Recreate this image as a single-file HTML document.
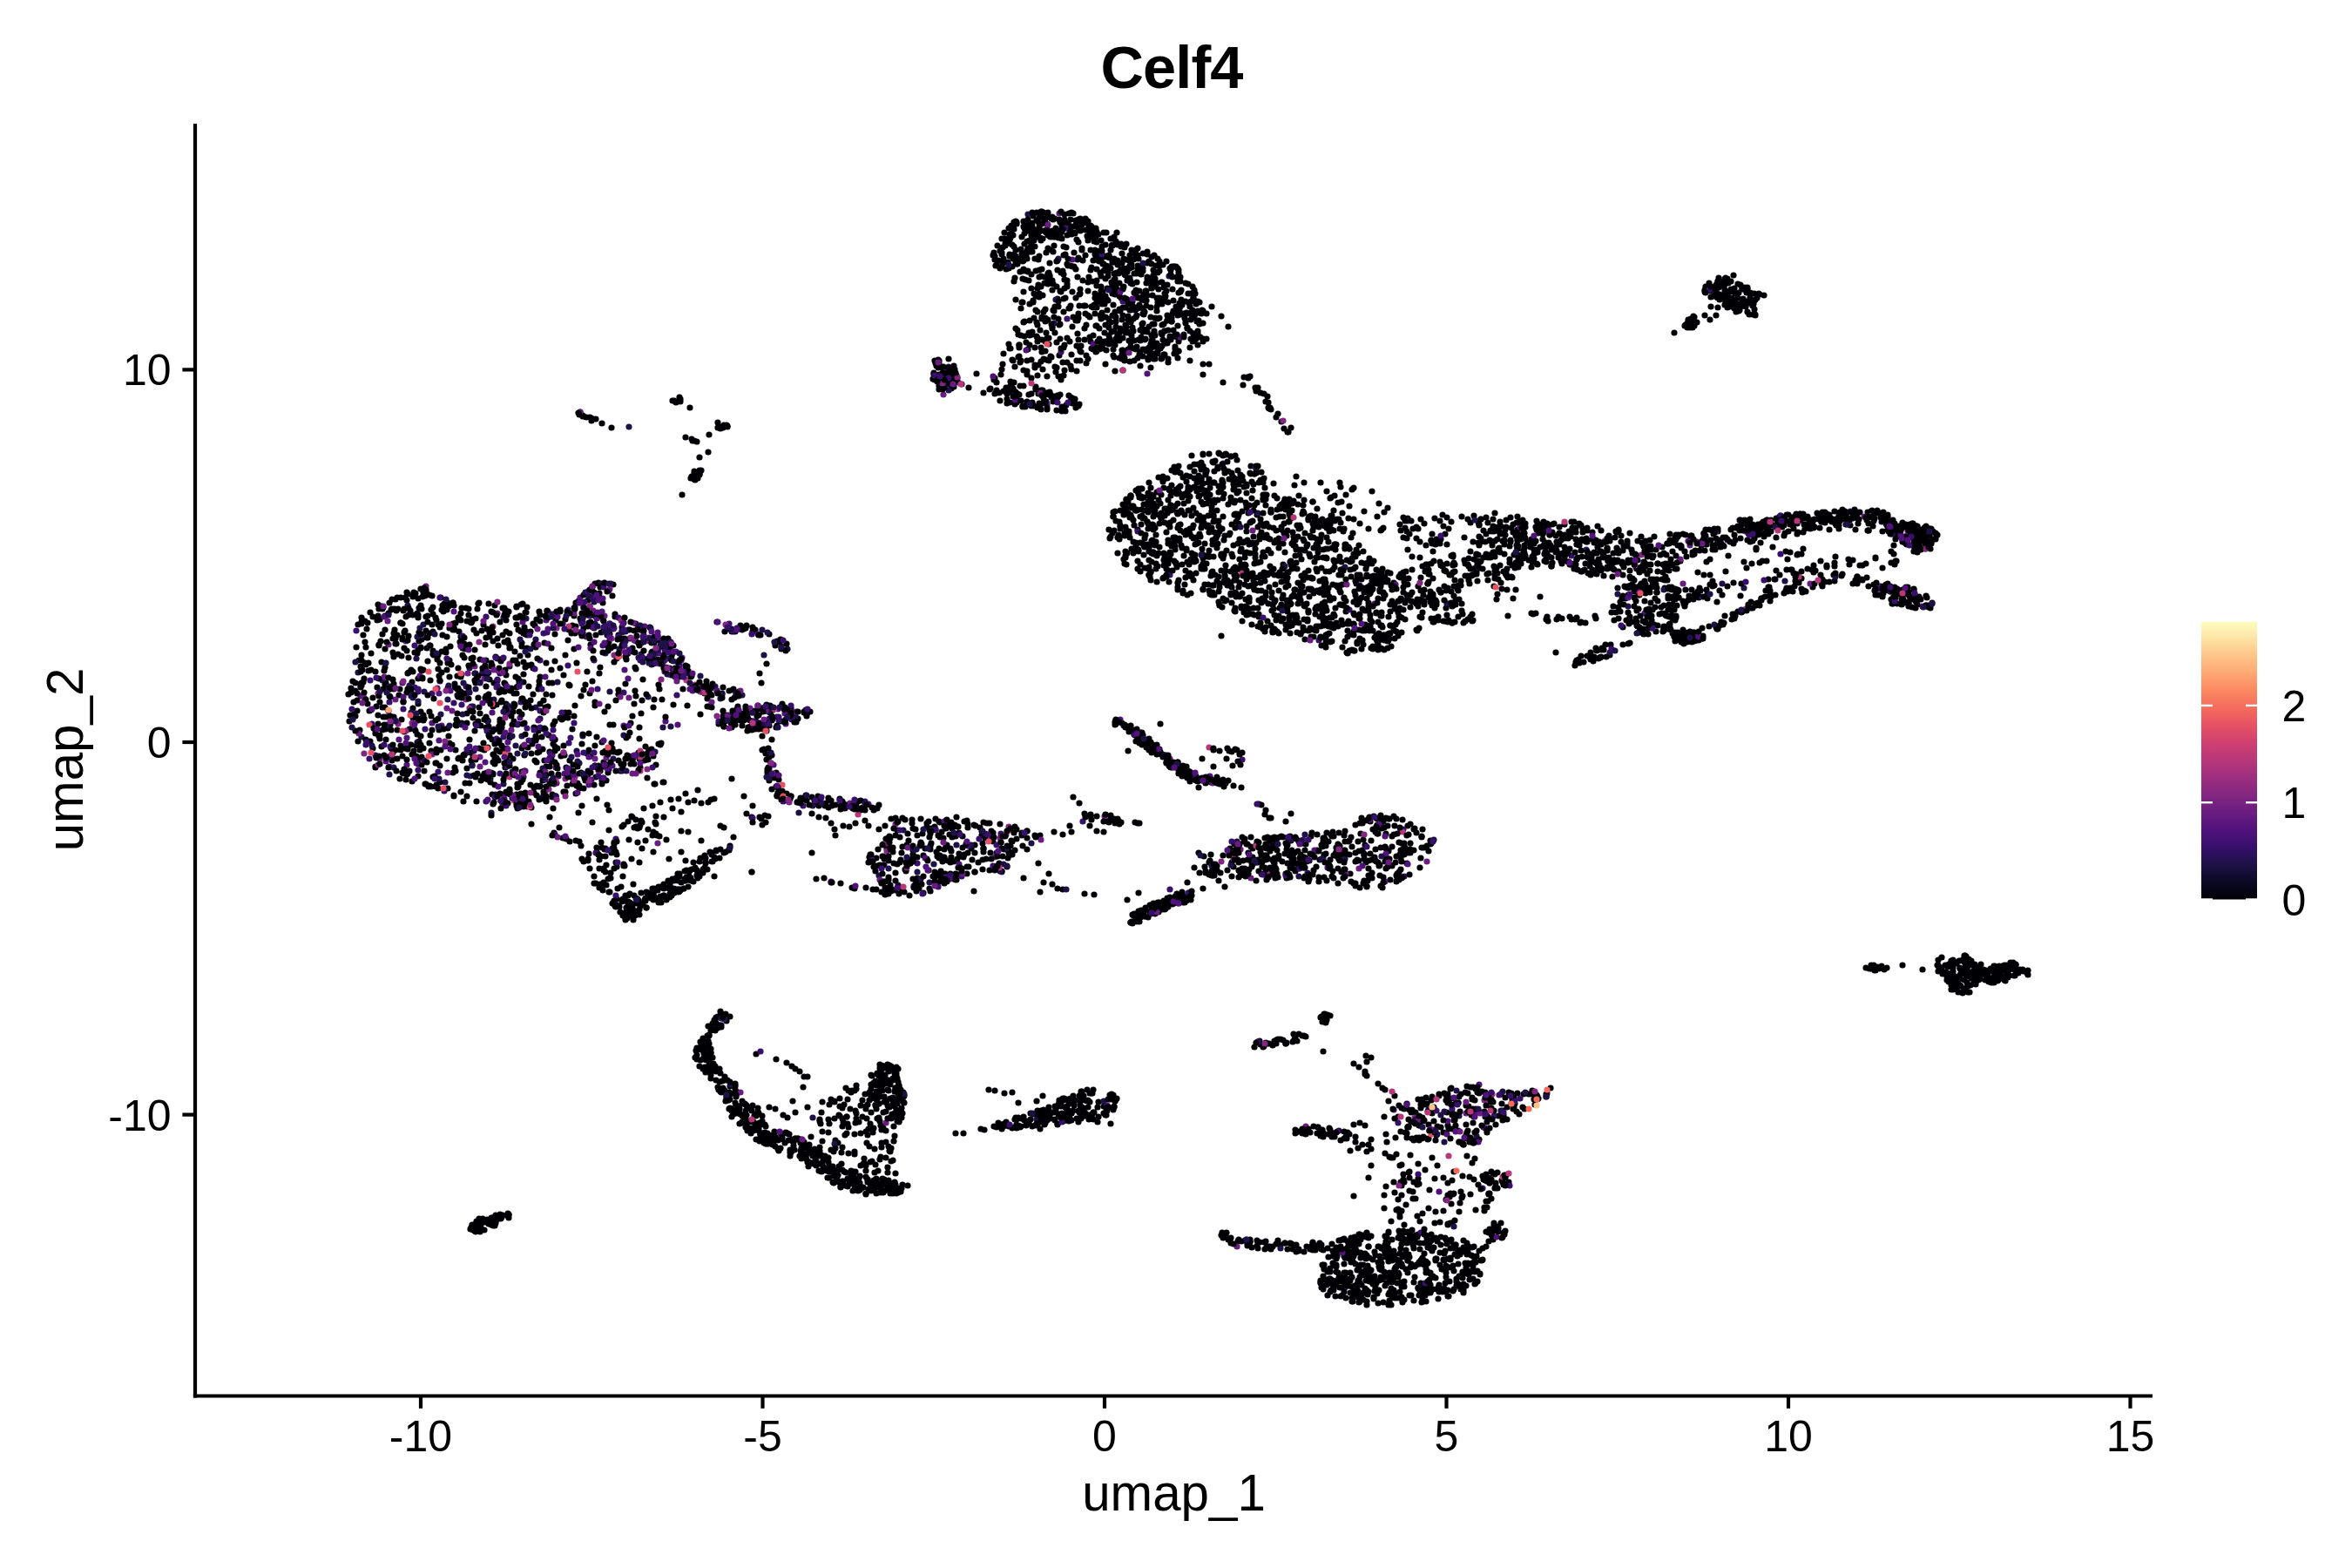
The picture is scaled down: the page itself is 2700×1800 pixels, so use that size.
<!DOCTYPE html>
<html><head><meta charset="utf-8"><style>
html,body{margin:0;padding:0;background:#fff;width:2700px;height:1800px;overflow:hidden}
svg{display:block}
.tk{font-family:"Liberation Sans",sans-serif;font-size:50px;fill:#000}
.lab{font-family:"Liberation Sans",sans-serif;font-size:58.3px;fill:#000}
.title{font-family:"Liberation Sans",sans-serif;font-size:68.5px;font-weight:bold;letter-spacing:-0.9px;fill:#000}
</style></head><body>
<svg width="2700" height="1800" viewBox="0 0 2700 1800">
<rect width="2700" height="1800" fill="#fff"/>
<line x1="224" y1="142" x2="224" y2="1604.6" stroke="#000" stroke-width="4.2" stroke-linecap="butt"/>
<line x1="221.9" y1="1602.5" x2="2471" y2="1602.5" stroke="#000" stroke-width="4.2"/>
<line x1="483.0" y1="1602.5" x2="483.0" y2="1616.8" stroke="#000" stroke-width="4.2"/>
<text x="483.0" y="1666" text-anchor="middle" class="tk">-10</text>
<line x1="875.5" y1="1602.5" x2="875.5" y2="1616.8" stroke="#000" stroke-width="4.2"/>
<text x="875.5" y="1666" text-anchor="middle" class="tk">-5</text>
<line x1="1268.0" y1="1602.5" x2="1268.0" y2="1616.8" stroke="#000" stroke-width="4.2"/>
<text x="1268.0" y="1666" text-anchor="middle" class="tk">0</text>
<line x1="1660.5" y1="1602.5" x2="1660.5" y2="1616.8" stroke="#000" stroke-width="4.2"/>
<text x="1660.5" y="1666" text-anchor="middle" class="tk">5</text>
<line x1="2053.0" y1="1602.5" x2="2053.0" y2="1616.8" stroke="#000" stroke-width="4.2"/>
<text x="2053.0" y="1666" text-anchor="middle" class="tk">10</text>
<line x1="2445.5" y1="1602.5" x2="2445.5" y2="1616.8" stroke="#000" stroke-width="4.2"/>
<text x="2445.5" y="1666" text-anchor="middle" class="tk">15</text>
<line x1="209.4" y1="424.4" x2="224" y2="424.4" stroke="#000" stroke-width="4.2"/>
<text x="196.5" y="442.4" text-anchor="end" class="tk">10</text>
<line x1="209.4" y1="852.0" x2="224" y2="852.0" stroke="#000" stroke-width="4.2"/>
<text x="196.5" y="870.0" text-anchor="end" class="tk">0</text>
<line x1="209.4" y1="1279.6" x2="224" y2="1279.6" stroke="#000" stroke-width="4.2"/>
<text x="196.5" y="1297.6" text-anchor="end" class="tk">-10</text>
<text x="1345" y="100.7" text-anchor="middle" class="title">Celf4</text>
<text x="1347.5" y="1733.9" text-anchor="middle" class="lab">umap_1</text>
<text transform="translate(95,872) rotate(-90)" x="0" y="0" text-anchor="middle" class="lab">umap_2</text>
<g stroke-width="7.2" stroke-linecap="round" fill="none"><path d="M1235 253h0M1194 273h0M1154 282h0M1219 259h0M1185 245h0M1217 255h0M1167 257h0M1228 266h0M1144 304h0M1193 266h0M1195 276h0M1225 270h0M1218 264h0M1215 271h0M1209 252h0M1236 275h0M1264 276h0M1155 278h0M1279 272h0M1158 306h0M1249 276h0M1179 257h0M1251 261h0M1150 274h0M1196 243h0M1168 303h0M1248 256h0M1164 263h0M1246 251h0M1173 290h0M1213 268h0M1197 274h0M1203 266h0M1230 269h0M1182 256h0M1229 252h0M1187 276h0M1159 279h0M1186 248h0M1183 284h0M1159 269h0M1238 262h0M1211 251h0M1242 258h0M1244 255h0M1283 281h0M1161 268h0M1228 265h0M1203 244h0M1181 258h0M1169 298h0M1154 280h0M1176 280h0M1345 369h0M1336 330h0M1322 295h0M1309 404h0M1311 377h0M1326 320h0M1313 338h0M1285 312h0M1295 349h0M1273 293h0M1285 382h0M1288 367h0M1277 337h0M1306 342h0M1272 317h0M1334 397h0M1298 346h0M1281 389h0M1289 332h0M1273 395h0M1336 407h0M1273 306h0M1307 390h0M1375 380h0M1353 336h0M1381 357h0M1301 352h0M1319 300h0M1311 341h0M1367 346h0M1366 360h0M1283 299h0M1349 398h0M1265 283h0M1301 380h0M1301 366h0M1268 349h0M1359 384h0M1335 304h0M1326 328h0M1297 305h0M1333 324h0M1276 381h0M1260 346h0M1288 302h0M1324 310h0M1266 295h0M1322 385h0M1285 391h0M1369 365h0M1307 297h0M1263 339h0M1291 414h0M1275 332h0M1312 371h0M1317 289h0M1284 314h0M1316 351h0M1303 356h0M1317 381h0M1298 370h0M1340 368h0M1266 338h0M1372 360h0M1354 348h0M1333 412h0M1291 284h0M1328 394h0M1292 344h0M1259 322h0M1277 393h0M1353 319h0M1273 385h0M1291 315h0M1377 358h0M1307 342h0M1281 331h0M1331 305h0M1331 311h0M1287 342h0M1352 308h0M1381 389h0M1298 323h0M1352 374h0M1371 391h0M1352 362h0M1295 367h0M1367 367h0M1354 388h0M1347 345h0M1288 291h0M1269 294h0M1263 293h0M1305 293h0M1358 361h0M1295 401h0M1262 288h0M1336 372h0M1302 391h0M1281 375h0M1379 360h0M1311 372h0M1296 367h0M1266 335h0M1259 293h0M1290 329h0M1299 346h0M1344 310h0M1277 327h0M1298 325h0M1369 329h0M1373 349h0M1208 322h0M1170 396h0M1204 313h0M1240 414h0M1256 350h0M1214 310h0M1165 421h0M1197 339h0M1191 392h0M1242 285h0M1257 342h0M1222 425h0M1208 375h0M1225 329h0M1215 352h0M1250 318h0M1252 392h0M1171 416h0M1245 390h0M1165 319h0M1259 353h0M1243 322h0M1193 318h0M1268 382h0M1237 383h0M1182 349h0M1198 358h0M1255 353h0M1209 289h0M1162 413h0M1239 338h0M1181 382h0M1176 386h0M1200 365h0M1188 297h0M1217 389h0M1221 315h0M1193 310h0M1186 345h0M1218 335h0M1201 366h0M1209 326h0M1221 283h0M1242 287h0M1182 368h0M1223 342h0M1205 316h0M1178 393h0M1176 369h0M1224 284h0M1240 332h0M1192 327h0M1195 317h0M1231 375h0M1197 424h0M1195 415h0M1204 395h0M1266 400h0M1249 362h0M1188 399h0M1229 305h0M1221 343h0M1263 362h0M1199 325h0M1232 364h0M1174 320h0M1238 360h0M1236 414h0M1185 289h0M1249 334h0M1253 400h0M1203 367h0M1215 455h0M1195 448h0M1197 463h0M1171 443h0M1167 462h0M1163 447h0M1172 460h0M1234 463h0M1174 467h0M1209 461h0M1231 463h0M1227 454h0M1220 468h0M1194 465h0M1229 456h0M1217 453h0M1201 461h0M1222 470h0M1187 466h0M1199 453h0M1179 461h0M1072 428h0M1096 434h0M1094 423h0M1090 438h0M1098 435h0M1073 436h0M1083 431h0M1078 430h0M1075 420h0M1086 427h0M1092 446h0M1083 429h0M1164 439h0M1151 418h0M1112 445h0M1121 429h0M1404 439h0M1280 426h0M1289 425h0M1309 420h0M1321 422h0M1366 414h0M1433 434h0M1451 452h0M1458 468h0M1471 484h0M1478 496h0M2000 331h0M1986 335h0M2012 351h0M1980 323h0M1984 347h0M1957 333h0M1979 341h0M1997 356h0M2015 344h0M1979 329h0M1983 320h0M1984 335h0M2001 343h0M1981 319h0M1980 344h0M1981 348h0M1972 323h0M1987 332h0M1970 332h0M2014 355h0M1980 320h0M2006 346h0M2025 339h0M1991 331h0M1993 358h0M1980 336h0M1986 345h0M2009 336h0M1979 326h0M1997 349h0M1994 355h0M2008 348h0M1965 332h0M1990 316h0M1957 362h0M1922 382h0M1938 373h0M1938 370h0M1937 371h0M1940 376h0M1945 371h0M1945 374h0M670 478h0M669 477h0M669 478h0M684 481h0M691 486h0M803 525h0M774 460h0M795 506h0M800 507h0M797 506h0M794 504h0M793 549h0M805 540h0M797 549h0M803 542h0M797 550h0M594 921h0M590 811h0M442 723h0M452 823h0M442 707h0M520 887h0M526 790h0M559 722h0M509 702h0M431 880h0M506 861h0M580 881h0M536 819h0M484 734h0M439 812h0M631 863h0M636 898h0M574 826h0M587 822h0M618 839h0M627 880h0M582 706h0M568 877h0M567 866h0M525 776h0M689 885h0M480 792h0M585 812h0M555 894h0M536 830h0M599 886h0M623 896h0M633 896h0M496 838h0M675 889h0M525 791h0M459 894h0M475 862h0M450 873h0M561 834h0M613 740h0M593 912h0M564 702h0M670 890h0M504 776h0M633 888h0M570 809h0M587 790h0M507 716h0M571 781h0M592 777h0M414 765h0M544 723h0M438 857h0M479 750h0M590 828h0M635 832h0M557 764h0M497 725h0M743 865h0M531 873h0M514 761h0M420 743h0M545 773h0M467 795h0M536 713h0M513 769h0M490 732h0M568 901h0M439 838h0M454 733h0M524 826h0M426 750h0M573 834h0M579 784h0M615 836h0M414 785h0M542 711h0M648 867h0M593 796h0M402 821h0M593 925h0M489 679h0M600 802h0M484 770h0M558 802h0M496 717h0M581 808h0M465 886h0M414 787h0M484 878h0M498 752h0M541 715h0M531 738h0M555 853h0M449 859h0M605 744h0M598 898h0M461 826h0M450 866h0M469 730h0M554 773h0M559 827h0M514 836h0M665 905h0M456 838h0M467 680h0M567 784h0M406 806h0M431 881h0M579 794h0M562 846h0M585 817h0M481 726h0M443 784h0M551 757h0M494 844h0M448 832h0M575 759h0M533 755h0M561 693h0M527 725h0M463 805h0M616 913h0M573 837h0M419 761h0M559 887h0M584 739h0M439 699h0M523 832h0M534 745h0M473 783h0M440 791h0M541 873h0M465 686h0M518 763h0M483 744h0M423 761h0M410 816h0M493 683h0M501 860h0M458 798h0M600 857h0M609 804h0M433 712h0M552 896h0M657 887h0M428 801h0M532 798h0M451 780h0M601 760h0M612 797h0M594 900h0M598 725h0M606 752h0M451 749h0M601 727h0M549 693h0M581 820h0M514 790h0M533 739h0M540 864h0M497 747h0M480 709h0M497 751h0M582 873h0M494 781h0M580 785h0M568 854h0M526 709h0M750 868h0M474 824h0M618 791h0M472 769h0M520 692h0M484 699h0M602 720h0M460 856h0M412 839h0M560 827h0M579 891h0M480 687h0M512 745h0M483 817h0M620 706h0M452 871h0M609 725h0M615 743h0M615 845h0M601 783h0M467 689h0M504 838h0M474 813h0M599 742h0M586 912h0M603 812h0M443 837h0M577 729h0M480 746h0M563 898h0M405 782h0M526 767h0M581 911h0M583 922h0M607 920h0M610 927h0M636 900h0M627 917h0M613 910h0M698 882h0M684 892h0M682 901h0M691 900h0M693 880h0M675 896h0M735 881h0M728 877h0M734 871h0M719 871h0M750 864h0M743 871h0M745 862h0M718 871h0M748 860h0M723 733h0M829 796h0M657 718h0M780 777h0M692 692h0M695 719h0M682 680h0M670 721h0M673 706h0M807 791h0M732 722h0M698 742h0M751 738h0M704 671h0M726 748h0M811 782h0M643 700h0M638 712h0M747 759h0M669 726h0M823 793h0M700 716h0M771 753h0M749 748h0M784 773h0M629 702h0M845 798h0M677 696h0M807 791h0M700 728h0M706 705h0M848 794h0M767 733h0M717 733h0M706 708h0M693 721h0M757 735h0M787 768h0M659 707h0M777 774h0M778 775h0M697 739h0M653 723h0M728 724h0M699 737h0M726 744h0M759 739h0M687 669h0M714 745h0M772 750h0M746 720h0M691 852h0M688 773h0M670 792h0M710 792h0M719 847h0M625 738h0M718 785h0M649 818h0M759 853h0M812 802h0M647 775h0M719 757h0M814 811h0M734 848h0M678 740h0M741 857h0M653 818h0M662 761h0M728 808h0M634 798h0M751 803h0M645 826h0M700 832h0M683 810h0M634 784h0M912 822h0M863 818h0M882 828h0M831 834h0M884 818h0M916 825h0M902 818h0M871 837h0M887 815h0M861 827h0M858 824h0M855 819h0M878 815h0M825 831h0M886 827h0M908 813h0M850 827h0M865 828h0M842 826h0M864 833h0M852 833h0M859 838h0M866 817h0M865 817h0M842 818h0M878 812h0M832 725h0M864 725h0M873 729h0M867 723h0M856 721h0M895 737h0M872 773h0M879 865h0M883 882h0M1503 593h0M1436 535h0M1387 554h0M1518 677h0M1385 578h0M1426 681h0M1348 619h0M1306 653h0M1307 631h0M1481 586h0M1371 541h0M1468 629h0M1417 577h0M1452 667h0M1391 582h0M1538 607h0M1341 655h0M1423 619h0M1426 547h0M1313 571h0M1377 592h0M1485 621h0M1504 593h0M1294 635h0M1356 626h0M1423 685h0M1418 575h0M1283 617h0M1483 624h0M1546 643h0M1410 579h0M1347 617h0M1343 563h0M1416 562h0M1472 661h0M1398 536h0M1522 656h0M1508 605h0M1431 583h0M1346 585h0M1559 664h0M1487 617h0M1478 609h0M1311 592h0M1559 635h0M1434 686h0M1410 668h0M1311 561h0M1304 563h0M1446 615h0M1501 625h0M1485 616h0M1388 639h0M1512 656h0M1476 667h0M1423 653h0M1447 596h0M1376 623h0M1300 581h0M1524 605h0M1551 617h0M1440 635h0M1387 671h0M1498 612h0M1351 567h0M1362 553h0M1330 591h0M1378 616h0M1420 528h0M1558 660h0M1497 662h0M1423 684h0M1274 618h0M1322 635h0M1527 602h0M1483 586h0M1325 589h0M1496 587h0M1530 654h0M1441 636h0M1359 611h0M1341 574h0M1360 567h0M1379 650h0M1366 562h0M1430 688h0M1452 617h0M1388 550h0M1352 590h0M1513 628h0M1295 574h0M1537 596h0M1518 596h0M1524 630h0M1431 634h0M1340 637h0M1304 586h0M1362 632h0M1428 559h0M1392 656h0M1443 591h0M1286 603h0M1356 586h0M1310 570h0M1440 663h0M1439 556h0M1377 613h0M1305 586h0M1537 660h0M1522 630h0M1530 671h0M1290 642h0M1400 670h0M1445 663h0M1402 655h0M1495 673h0M1456 618h0M1519 631h0M1380 630h0M1364 586h0M1448 678h0M1468 659h0M1424 684h0M1443 577h0M1515 680h0M1285 619h0M1524 598h0M1417 660h0M1422 601h0M1475 579h0M1370 583h0M1306 608h0M1425 654h0M1328 565h0M1519 665h0M1386 605h0M1529 592h0M1517 614h0M1474 601h0M1381 677h0M1525 675h0M1483 653h0M1383 539h0M1394 597h0M1416 556h0M1431 556h0M1424 574h0M1430 577h0M1447 551h0M1375 533h0M1500 627h0M1381 653h0M1385 540h0M1381 555h0M1471 581h0M1465 594h0M1552 641h0M1405 620h0M1471 668h0M1504 615h0M1321 657h0M1448 542h0M1323 580h0M1575 647h0M1428 659h0M1309 593h0M1362 609h0M1549 630h0M1404 554h0M1425 648h0M1297 594h0M1463 569h0M1482 593h0M1294 590h0M1473 683h0M1394 577h0M1463 623h0M1433 662h0M1480 573h0M1435 600h0M1459 588h0M1363 565h0M1337 584h0M1407 521h0M1337 584h0M1413 683h0M1304 627h0M1492 682h0M1493 678h0M1388 521h0M1352 578h0M1429 640h0M1379 539h0M1449 602h0M1370 618h0M1381 535h0M1479 657h0M1432 661h0M1349 631h0M1290 585h0M1535 644h0M1447 602h0M1293 583h0M1570 646h0M1322 621h0M1501 663h0M1327 622h0M1311 572h0M1476 674h0M1565 633h0M1373 617h0M1439 666h0M1440 647h0M1293 574h0M1391 683h0M1336 560h0M1393 531h0M1350 562h0M1336 643h0M1381 641h0M1299 630h0M1507 664h0M1436 544h0M1352 606h0M1328 668h0M1468 661h0M1532 598h0M1366 607h0M1372 625h0M1392 530h0M1386 564h0M1393 639h0M1437 572h0M1394 683h0M1435 543h0M1438 563h0M1368 616h0M1358 548h0M1373 589h0M1534 625h0M1321 585h0M1336 550h0M1542 610h0M1456 631h0M1380 636h0M1361 614h0M1441 646h0M1405 667h0M1395 660h0M1502 676h0M1403 551h0M1292 640h0M1345 565h0M1355 602h0M1471 579h0M1309 623h0M1528 597h0M1577 644h0M1482 595h0M1422 556h0M1340 589h0M1451 663h0M1399 604h0M1470 584h0M1378 535h0M1324 634h0M1402 561h0M1535 596h0M1441 663h0M1318 601h0M1293 609h0M1337 600h0M1417 549h0M1344 580h0M1298 569h0M1480 590h0M1422 550h0M1349 542h0M1508 629h0M1364 565h0M1413 524h0M1346 585h0M1463 691h0M1445 708h0M1403 697h0M1519 717h0M1554 691h0M1588 729h0M1434 691h0M1519 712h0M1577 661h0M1536 719h0M1555 679h0M1526 727h0M1548 713h0M1587 720h0M1503 685h0M1571 701h0M1400 694h0M1529 720h0M1554 747h0M1431 699h0M1522 738h0M1561 733h0M1547 731h0M1593 728h0M1581 742h0M1601 699h0M1606 708h0M1605 690h0M1558 693h0M1583 735h0M1480 719h0M1584 679h0M1579 732h0M1538 678h0M1596 658h0M1425 696h0M1498 696h0M1461 726h0M1531 721h0M1478 697h0M1569 687h0M1522 713h0M1447 715h0M1439 698h0M1583 727h0M1558 739h0M1517 698h0M1585 718h0M1554 716h0M1575 677h0M1485 715h0M1558 694h0M1489 726h0M1497 694h0M1505 731h0M1488 706h0M1476 717h0M1521 691h0M1432 698h0M1433 690h0M1484 706h0M1565 675h0M1585 707h0M1471 694h0M1531 717h0M1461 694h0M1526 685h0M1522 729h0M1554 725h0M1493 727h0M1573 719h0M1554 729h0M1589 735h0M1582 660h0M1508 723h0M1590 683h0M1480 710h0M1540 712h0M1601 694h0M1557 670h0M1498 734h0M1573 706h0M1478 702h0M1582 687h0M1561 688h0M1582 714h0M1564 735h0M1586 661h0M1510 705h0M1600 669h0M1539 680h0M1598 673h0M1649 694h0M1666 679h0M1688 708h0M1639 670h0M1695 637h0M1667 696h0M1658 655h0M1700 644h0M1635 694h0M1688 633h0M1691 712h0M1613 711h0M1615 683h0M1608 663h0M1685 661h0M1640 668h0M1621 680h0M1655 648h0M1653 645h0M1611 662h0M1670 656h0M1626 693h0M1616 687h0M1643 647h0M1687 670h0M1677 667h0M1635 690h0M1667 715h0M1686 650h0M1680 715h0M1660 678h0M1677 672h0M1609 688h0M1661 647h0M1660 656h0M1611 680h0M1664 660h0M1536 577h0M1539 559h0M1581 593h0M1451 549h0M1583 578h0M1523 564h0M1549 581h0M1548 595h0M1571 607h0M1541 589h0M1552 562h0M1626 605h0M1491 569h0M1735 662h0M1719 682h0M2002 601h0M1999 608h0M2001 609h0M2017 604h0M2044 592h0M2048 599h0M2039 595h0M2035 603h0M2030 604h0M2048 594h0M2051 591h0M2059 597h0M2061 592h0M2065 595h0M2057 594h0M2055 598h0M2092 596h0M2097 590h0M2111 592h0M2100 597h0M2122 598h0M2144 588h0M2133 596h0M2148 590h0M2128 590h0M2170 604h0M2193 604h0M2213 621h0M2171 604h0M2178 614h0M2205 631h0M2210 630h0M2184 604h0M2172 605h0M2189 615h0M2212 624h0M2217 622h0M2181 612h0M2208 608h0M2205 631h0M2178 607h0M2171 611h0M2184 622h0M2215 612h0M2173 613h0M1940 725h0M1935 726h0M1934 733h0M1923 726h0M1942 737h0M1932 723h0M1930 737h0M1922 730h0M1943 727h0M1935 733h0M1920 727h0M2216 622h0M2146 593h0M1776 635h0M1874 664h0M1862 647h0M1845 651h0M1870 644h0M1792 644h0M1896 638h0M1981 617h0M1922 623h0M1885 623h0M1774 623h0M1841 661h0M1906 637h0M1878 651h0M1778 626h0M2088 596h0M1849 648h0M1847 617h0M1874 635h0M1791 613h0M1822 609h0M1967 608h0M1920 648h0M1809 611h0M2145 609h0M2124 603h0M2048 615h0M2107 601h0M2030 604h0M1951 632h0M1744 614h0M2043 593h0M2076 602h0M1828 654h0M1959 625h0M1873 643h0M1751 638h0M1764 647h0M1960 621h0M1879 653h0M1777 627h0M2029 597h0M1792 620h0M1833 659h0M2189 625h0M1807 647h0M2062 590h0M2161 610h0M1848 621h0M1869 646h0M1835 642h0M1750 612h0M2025 613h0M1929 644h0M1834 648h0M1943 637h0M1761 624h0M1780 626h0M1774 633h0M1891 659h0M2222 612h0M2199 604h0M1826 644h0M1871 662h0M2039 605h0M1744 646h0M2111 603h0M1811 654h0M1894 655h0M2041 595h0M2049 612h0M1912 662h0M1802 630h0M1966 631h0M1975 628h0M2107 596h0M2183 616h0M2037 603h0M2033 610h0M2048 603h0M1876 666h0M2193 607h0M2058 603h0M1882 657h0M1880 621h0M2167 608h0M1918 648h0M1908 628h0M1926 616h0M1764 634h0M1782 611h0M1970 618h0M2018 614h0M1815 603h0M1764 608h0M1805 611h0M2151 598h0M1887 627h0M1745 602h0M2062 594h0M1743 643h0M1747 600h0M1854 617h0M1918 642h0M1794 644h0M2199 630h0M1901 631h0M1957 632h0M1846 644h0M1821 618h0M2129 585h0M1923 617h0M1856 611h0M1868 621h0M1857 643h0M1784 601h0M1800 632h0M1799 615h0M1810 642h0M1828 619h0M2009 614h0M2039 617h0M1750 626h0M2044 597h0M1899 616h0M1796 640h0M1803 616h0M2194 603h0M2025 604h0M1816 656h0M2027 598h0M1822 606h0M1917 620h0M1809 619h0M1837 633h0M1850 649h0M2010 602h0M1746 647h0M2046 605h0M1968 607h0M2209 610h0M1833 747h0M1809 760h0M1843 740h0M1841 746h0M1826 749h0M1863 740h0M1911 675h0M1948 681h0M1927 686h0M1870 716h0M1923 676h0M1918 723h0M1894 680h0M1853 712h0M1863 684h0M1943 686h0M1952 678h0M1895 692h0M1897 672h0M1879 701h0M1908 665h0M1934 696h0M1960 682h0M1884 726h0M1878 710h0M1885 674h0M1959 677h0M1910 721h0M1927 678h0M1950 686h0M1892 678h0M1888 677h0M1896 707h0M1873 714h0M1881 726h0M1939 684h0M1902 680h0M1869 703h0M1879 718h0M1897 668h0M1895 708h0M1902 675h0M1881 699h0M1874 671h0M1924 709h0M1920 685h0M1916 717h0M1891 722h0M1889 671h0M1942 677h0M1911 666h0M1888 680h0M1877 676h0M2022 689h0M1936 729h0M1934 733h0M1942 732h0M2033 685h0M1934 728h0M1991 705h0M1972 722h0M1948 735h0M2016 695h0M1950 735h0M1953 733h0M1922 729h0M2015 693h0M1947 684h0M2130 666h0M2097 651h0M2090 644h0M2075 653h0M2026 685h0M2138 649h0M1963 671h0M2030 665h0M1977 683h0M2081 674h0M2091 670h0M2132 662h0M2137 665h0M2145 673h0M2132 668h0M2143 663h0M2138 666h0M2145 673h0M2176 686h0M2152 678h0M2197 685h0M2164 677h0M2184 681h0M2157 676h0M2198 683h0M2191 692h0M1760 705h0M1776 708h0M1787 711h0M1789 708h0M1808 711h0M1814 715h0M1815 714h0M1786 749h0M1281 830h0M1280 829h0M1292 835h0M1297 838h0M1288 830h0M1303 844h0M1314 854h0M1325 860h0M1322 864h0M1324 856h0M1316 853h0M1337 867h0M1335 868h0M1363 891h0M1353 882h0M1374 896h0M1390 898h0M1397 892h0M1400 900h0M1393 880h0M1416 902h0M1414 863h0M1418 860h0M1411 862h0M1408 871h0M1416 995h0M1492 991h0M1558 987h0M1420 968h0M1598 972h0M1603 1005h0M1579 988h0M1537 986h0M1433 979h0M1632 973h0M1581 947h0M1421 970h0M1432 969h0M1436 972h0M1488 963h0M1585 1017h0M1523 1011h0M1529 1006h0M1619 979h0M1550 1003h0M1616 948h0M1551 961h0M1543 959h0M1420 969h0M1619 946h0M1586 951h0M1491 965h0M1394 998h0M1412 974h0M1475 980h0M1560 977h0M1579 975h0M1493 981h0M1551 1012h0M1584 1005h0M1466 962h0M1552 972h0M1514 1007h0M1537 983h0M1591 997h0M1463 991h0M1483 982h0M1490 977h0M1418 982h0M1589 940h0M1512 976h0M1575 1002h0M1558 988h0M1496 996h0M1564 945h0M1420 971h0M1617 976h0M1568 990h0M1438 992h0M1630 996h0M1573 943h0M1521 963h0M1567 970h0M1596 993h0M1570 1011h0M1635 973h0M1461 987h0M1479 961h0M1582 957h0M1556 1014h0M1583 994h0M1594 977h0M1603 940h0M1602 990h0M1429 1001h0M1569 1017h0M1595 986h0M1460 962h0M1642 965h0M1593 948h0M1417 985h0M1571 997h0M1575 987h0M1458 996h0M1302 1049h0M1307 1046h0M1309 1049h0M1309 1053h0M1328 1039h0M1332 1038h0M1320 1047h0M1329 1036h0M1330 1047h0M1337 1044h0M1343 1030h0M1336 1034h0M1356 1033h0M1361 1029h0M1368 1028h0M1351 1026h0M1359 1035h0M1365 1025h0M1363 1030h0M1363 1013h0M1371 996h0M1274 942h0M894 895h0M889 893h0M898 908h0M908 914h0M897 918h0M897 910h0M892 914h0M902 919h0M916 921h0M926 919h0M948 922h0M954 919h0M941 923h0M970 928h0M965 925h0M975 923h0M977 926h0M965 929h0M1007 928h0M988 930h0M878 936h0M940 938h0M948 939h0M968 948h0M1016 948h0M1073 949h0M1036 939h0M1091 990h0M1014 983h0M1045 991h0M1017 963h0M1053 959h0M1008 975h0M1148 946h0M1140 966h0M1069 951h0M1033 990h0M1158 977h0M1188 959h0M1097 1003h0M1080 1007h0M1057 967h0M1047 986h0M1137 979h0M1158 979h0M1067 1020h0M1068 1023h0M1076 983h0M1020 962h0M1014 1012h0M1104 997h0M1034 987h0M1115 974h0M1013 983h0M1068 975h0M1060 982h0M1032 1026h0M1086 972h0M1052 1017h0M1003 995h0M1084 984h0M1092 977h0M1165 976h0M1007 994h0M1119 970h0M997 990h0M1083 984h0M1084 1014h0M1179 962h0M1041 970h0M1153 975h0M1073 1007h0M1080 1005h0M1042 957h0M1048 1009h0M1079 944h0M1067 953h0M1090 1009h0M1048 976h0M1020 1007h0M1074 952h0M1147 991h0M1132 986h0M1020 988h0M1083 962h0M1018 974h0M1136 945h0M1010 993h0M1078 943h0M1131 962h0M1079 961h0M1066 999h0M1026 991h0M1040 1000h0M1118 947h0M1179 954h0M1194 959h0M1017 1026h0M954 1013h0M1017 1023h0M965 1014h0M1020 1026h0M1002 1021h0M1012 1024h0M946 1008h0M1239 922h0M1259 954h0M1267 955h0M1208 1015h0M1220 1021h0M1245 1026h0M1256 1027h0M1118 1023h0M1252 935h0M1285 943h0M1245 934h0M1276 940h0M1280 943h0M1271 943h0M1287 944h0M1259 937h0M690 967h0M693 999h0M714 1035h0M695 983h0M709 1020h0M715 1006h0M675 986h0M711 1041h0M685 978h0M685 973h0M705 969h0M716 1049h0M691 1016h0M725 1052h0M701 1008h0M670 989h0M695 1001h0M684 1014h0M703 976h0M676 980h0M720 1035h0M692 1022h0M703 974h0M719 1042h0M732 1032h0M778 1003h0M780 1003h0M822 976h0M756 1036h0M788 999h0M801 1008h0M781 1021h0M759 1018h0M771 1028h0M831 979h0M762 1020h0M750 1027h0M769 1026h0M779 1024h0M780 1004h0M781 1022h0M762 1028h0M721 1035h0M805 1002h0M822 977h0M780 1006h0M751 1020h0M751 1023h0M791 1001h0M750 1027h0M807 998h0M782 1013h0M744 1028h0M740 1033h0M763 1018h0M778 1011h0M812 998h0M821 986h0M803 1006h0M800 1005h0M765 1033h0M747 1031h0M776 1008h0M636 956h0M646 962h0M721 943h0M716 947h0M726 938h0M725 937h0M736 942h0M728 950h0M750 955h0M749 959h0M757 960h0M642 950h0M664 933h0M697 924h0M739 928h0M816 918h0M831 950h0M804 985h0M725 986h0M820 1006h0M820 917h0M827 1177h0M832 1165h0M838 1167h0M834 1172h0M822 1168h0M824 1180h0M813 1178h0M943 1326h0M813 1224h0M929 1323h0M880 1304h0M954 1345h0M803 1224h0M1008 1360h0M800 1203h0M924 1317h0M943 1345h0M841 1246h0M825 1249h0M881 1301h0M982 1345h0M926 1325h0M952 1338h0M875 1308h0M977 1344h0M879 1313h0M863 1275h0M1001 1363h0M977 1356h0M847 1273h0M1027 1357h0M948 1329h0M873 1301h0M855 1283h0M1006 1356h0M951 1342h0M832 1236h0M1005 1361h0M968 1356h0M934 1336h0M882 1308h0M871 1298h0M903 1301h0M865 1295h0M888 1311h0M979 1355h0M860 1272h0M889 1303h0M951 1334h0M1026 1363h0M940 1327h0M836 1262h0M1016 1360h0M947 1327h0M843 1272h0M836 1263h0M845 1253h0M987 1350h0M967 1356h0M920 1330h0M999 1358h0M868 1290h0M861 1287h0M925 1328h0M920 1311h0M999 1359h0M929 1314h0M977 1348h0M847 1254h0M833 1264h0M912 1320h0M855 1267h0M936 1336h0M885 1311h0M983 1357h0M863 1288h0M1004 1360h0M808 1215h0M994 1371h0M907 1327h0M805 1199h0M857 1291h0M838 1256h0M965 1362h0M1030 1367h0M804 1196h0M969 1345h0M1033 1364h0M989 1364h0M862 1301h0M1020 1355h0M856 1285h0M1011 1359h0M856 1294h0M877 1312h0M848 1270h0M846 1273h0M913 1307h0M816 1204h0M982 1363h0M800 1211h0M973 1362h0M1000 1367h0M1003 1355h0M834 1262h0M994 1351h0M1036 1360h0M807 1205h0M997 1365h0M935 1319h0M842 1279h0M893 1309h0M887 1314h0M806 1202h0M845 1257h0M832 1239h0M925 1318h0M1008 1284h0M964 1270h0M1010 1259h0M1027 1232h0M978 1252h0M972 1301h0M995 1312h0M1003 1295h0M966 1336h0M1025 1332h0M1012 1297h0M962 1312h0M1023 1333h0M967 1272h0M998 1263h0M994 1338h0M1000 1257h0M972 1282h0M959 1309h0M1025 1238h0M1019 1269h0M976 1273h0M1000 1245h0M988 1301h0M981 1322h0M941 1287h0M1023 1224h0M1008 1267h0M974 1324h0M1027 1304h0M1034 1282h0M1020 1228h0M1016 1234h0M1026 1293h0M1027 1265h0M1014 1226h0M1037 1259h0M1031 1254h0M1010 1226h0M1004 1260h0M1030 1248h0M1019 1251h0M1032 1288h0M1011 1252h0M1023 1284h0M1010 1247h0M1032 1276h0M1027 1253h0M1024 1261h0M1007 1233h0M1009 1267h0M1025 1263h0M1020 1241h0M1027 1265h0M918 1230h0M1224 1272h0M1174 1284h0M1169 1283h0M1274 1257h0M1242 1274h0M1191 1292h0M1171 1294h0M1181 1289h0M1211 1270h0M1150 1291h0M1146 1289h0M1248 1264h0M1200 1281h0M1193 1287h0M1178 1292h0M1279 1271h0M1203 1283h0M1225 1270h0M1275 1257h0M1242 1274h0M1280 1264h0M1181 1287h0M1267 1270h0M1220 1261h0M1216 1266h0M1281 1262h0M1230 1278h0M1267 1278h0M1278 1274h0M1225 1279h0M1214 1291h0M1240 1269h0M1240 1264h0M1158 1293h0M1212 1272h0M1144 1294h0M1191 1284h0M1106 1301h0M1190 1264h0M1197 1258h0M1275 1290h0M1446 1195h0M1465 1194h0M1463 1195h0M1476 1198h0M1499 1190h0M1520 1164h0M1527 1166h0M1521 1164h0M1554 1221h0M1574 1214h0M1569 1219h0M1594 1264h0M1601 1258h0M1606 1269h0M1591 1302h0M1602 1306h0M1590 1324h0M1571 1352h0M1567 1233h0M1633 1264h0M1660 1257h0M1749 1256h0M1646 1271h0M1632 1262h0M1691 1309h0M1723 1256h0M1646 1287h0M1762 1268h0M1693 1263h0M1696 1254h0M1662 1292h0M1744 1279h0M1609 1272h0M1671 1267h0M1648 1309h0M1764 1257h0M1617 1293h0M1617 1285h0M1640 1291h0M1675 1311h0M1695 1298h0M1645 1273h0M1707 1288h0M1625 1277h0M1630 1282h0M1707 1300h0M1644 1278h0M1758 1256h0M1654 1294h0M1660 1263h0M1730 1271h0M1725 1275h0M1657 1300h0M1640 1307h0M1641 1298h0M1661 1277h0M1707 1261h0M1691 1273h0M1691 1312h0M1667 1296h0M1710 1295h0M1691 1289h0M1689 1280h0M1712 1262h0M1629 1284h0M1487 1301h0M1487 1297h0M1488 1300h0M1513 1294h0M1526 1295h0M1527 1301h0M1525 1302h0M1514 1301h0M1529 1305h0M1547 1300h0M1567 1292h0M1574 1308h0M1569 1322h0M1574 1319h0M1625 1376h0M1595 1328h0M1678 1375h0M1706 1379h0M1676 1381h0M1650 1338h0M1622 1376h0M1647 1404h0M1603 1389h0M1708 1379h0M1605 1377h0M1690 1335h0M1717 1363h0M1628 1353h0M1694 1389h0M1710 1353h0M1724 1355h0M1707 1356h0M1712 1376h0M1717 1363h0M1712 1414h0M1715 1404h0M1720 1410h0M1633 1444h0M1631 1473h0M1619 1455h0M1565 1492h0M1659 1421h0M1552 1437h0M1600 1444h0M1658 1479h0M1691 1453h0M1578 1482h0M1579 1441h0M1538 1478h0M1632 1483h0M1528 1481h0M1549 1438h0M1640 1427h0M1561 1417h0M1641 1474h0M1577 1470h0M1660 1456h0M1547 1432h0M1558 1458h0M1572 1471h0M1612 1471h0M1638 1474h0M1572 1419h0M1694 1473h0M1576 1446h0M1580 1473h0M1531 1481h0M1693 1474h0M1544 1466h0M1563 1475h0M1587 1469h0M1561 1473h0M1685 1450h0M1702 1433h0M1609 1489h0M1679 1475h0M1606 1413h0M1579 1478h0M1684 1427h0M1643 1424h0M1562 1423h0M1680 1474h0M1601 1484h0M1662 1445h0M1558 1474h0M1675 1435h0M1561 1472h0M1591 1443h0M1661 1428h0M1607 1417h0M1629 1449h0M1544 1444h0M1685 1459h0M1630 1434h0M1590 1429h0M1666 1423h0M1676 1437h0M1569 1498h0M1606 1463h0M1543 1442h0M1683 1476h0M1584 1457h0M1693 1447h0M1562 1452h0M1525 1472h0M1637 1481h0M1669 1433h0M1652 1475h0M1607 1452h0M1620 1487h0M1575 1469h0M1684 1440h0M1541 1423h0M1525 1469h0M1563 1462h0M1537 1424h0M1524 1471h0M1632 1495h0M1569 1441h0M1672 1476h0M1562 1444h0M1550 1484h0M1536 1461h0M1673 1439h0M1642 1484h0M1654 1429h0M1637 1448h0M1637 1484h0M1570 1486h0M1630 1482h0M1516 1472h0M1549 1445h0M1557 1476h0M1677 1480h0M1596 1466h0M1601 1490h0M1628 1417h0M1623 1422h0M1527 1456h0M1680 1481h0M1543 1451h0M1560 1428h0M1645 1421h0M1548 1430h0M1585 1446h0M1565 1418h0M1616 1414h0M1646 1432h0M1641 1476h0M1561 1466h0M1534 1452h0M1595 1495h0M1617 1440h0M1534 1432h0M1538 1424h0M1680 1424h0M1668 1482h0M1599 1461h0M1614 1435h0M1553 1494h0M1637 1494h0M1637 1457h0M1578 1437h0M1633 1477h0M1684 1432h0M1650 1425h0M1598 1447h0M1597 1440h0M1563 1487h0M1571 1458h0M1541 1487h0M1534 1454h0M1408 1415h0M1410 1422h0M1404 1421h0M1421 1425h0M1443 1424h0M1435 1425h0M1435 1423h0M1470 1429h0M1458 1433h0M1482 1428h0M1483 1428h0M1507 1426h0M1510 1435h0M1500 1431h0M1508 1433h0M1514 1432h0M2233 1108h0M2272 1123h0M2239 1127h0M2257 1119h0M2270 1113h0M2268 1112h0M2327 1117h0M2293 1114h0M2277 1117h0M2303 1109h0M2288 1122h0M2261 1108h0M2241 1110h0M2245 1122h0M2282 1123h0M2301 1108h0M2245 1124h0M2306 1119h0M2314 1108h0M2277 1113h0M2260 1121h0M2258 1112h0M2295 1109h0M2246 1128h0M2240 1117h0M2291 1124h0M2270 1114h0M2256 1097h0M2266 1117h0M2313 1113h0M2234 1117h0M2230 1118h0M2239 1106h0M2274 1119h0M2242 1130h0M2306 1120h0M2266 1114h0M2236 1110h0M2261 1105h0M2258 1118h0M2260 1101h0M2303 1108h0M2237 1127h0M2246 1125h0M2240 1108h0M2295 1121h0M2256 1100h0M2261 1139h0M2323 1115h0M2155 1110h0M2152 1114h0M2160 1109h0M2157 1112h0M2153 1114h0M2184 1108h0M550 1403h0M568 1407h0M540 1411h0M567 1404h0M546 1414h0M554 1403h0M559 1400h0M573 1396h0M569 1402h0M551 1405h0M557 1403h0M569 1397h0M551 1412h0M546 1414h0M545 1413h0M569 1399h0M574 1394h0M1692 592h0M1734 622h0M1730 653h0M1690 660h0M1727 620h0M1700 596h0M1722 599h0M1706 613h0M1738 637h0M1712 610h0M1742 621h0M1711 640h0M1696 653h0M1714 634h0M1695 656h0M1728 608h0M1711 621h0M1716 664h0M1716 639h0M1741 600h0M1703 609h0M1736 649h0M1663 607h0M1653 598h0M1628 607h0M1648 625h0M1661 594h0M1621 639h0M1616 631h0M1654 619h0M1615 610h0M1321 856h0M1331 863h0M1335 869h0M1338 867h0M1328 860h0M1316 858h0M1352 875h0M1363 893h0M1362 880h0M1365 894h0M1357 891h0M1373 891h0M1353 884h0M1367 895h0M1344 876h0M1366 897h0M1365 893h0M1429 1000h0M1412 979h0M1401 1002h0M1495 968h0M1491 997h0M1498 1006h0M1438 974h0M1478 970h0M1479 1007h0M1503 988h0M1467 1007h0M1464 1008h0M1484 997h0M1424 1005h0M1468 986h0M1484 982h0M1389 988h0M1414 990h0M1419 975h0M1420 977h0M1382 983h0M1390 981h0M1525 966h0M1485 986h0M1429 963h0M1437 986h0M1536 969h0M1444 990h0M1454 974h0M2065 669h0M2068 664h0M2063 668h0M2107 639h0M1953 626h0M2051 654h0M2050 633h0M2039 655h0M2092 665h0M1963 642h0M2016 631h0M2211 695h0M2183 681h0M2173 693h0M2200 691h0M2218 692h0M2161 685h0M2168 678h0M2162 681h0M2205 688h0M2170 677h0M2195 697h0M2213 695h0M2170 679h0" stroke="#000004"/>
<path d="M1180 246h0M1342 317h0M1361 368h0M1334 343h0M1210 371h0M1081 431h0M1080 431h0M1089 432h0M722 490h0M799 549h0M546 791h0M468 695h0M530 774h0M583 810h0M525 798h0M585 765h0M476 837h0M411 772h0M514 803h0M578 900h0M541 811h0M663 874h0M752 863h0M624 837h0M531 820h0M470 787h0M564 887h0M554 771h0M561 772h0M515 787h0M439 781h0M598 694h0M539 767h0M487 794h0M447 889h0M567 803h0M606 764h0M563 894h0M495 903h0M452 881h0M574 773h0M665 876h0M604 710h0M546 773h0M564 933h0M569 912h0M658 895h0M660 891h0M722 868h0M790 773h0M690 670h0M766 756h0M829 797h0M805 794h0M804 776h0M692 711h0M664 690h0M827 802h0M852 798h0M747 721h0M683 716h0M748 763h0M708 756h0M744 800h0M913 822h0M892 823h0M830 822h0M869 821h0M1424 605h0M2200 631h0M2007 612h0M1910 677h0M2002 675h0M2197 688h0M1544 986h0M1646 964h0M1491 1006h0M1413 993h0M1031 1016h0M1020 997h0M1115 970h0M1067 1013h0M1009 1005h0M1049 983h0M1144 979h0M958 1313h0M933 1283h0M1190 1285h0M1675 1281h0M1658 1276h0M1695 1304h0M1654 1280h0M1537 1298h0M1470 1433h0M2153 672h0M2170 679h0" stroke="#1d1147"/>
<path d="M1353 403h0M1265 292h0M1225 366h0M1100 439h0M597 784h0M448 857h0M620 816h0M535 788h0M598 806h0M626 895h0M480 794h0M496 796h0M574 888h0M641 891h0M476 789h0M540 891h0M480 791h0M605 926h0M726 868h0M761 735h0M693 720h0M763 746h0M784 777h0M780 763h0M765 766h0M700 716h0M721 723h0M677 707h0M652 700h0M716 795h0M682 758h0M628 726h0M883 825h0M909 826h0M825 828h0M863 728h0M1404 532h0M1306 610h0M1561 672h0M2044 592h0M2124 587h0M2206 617h0M1961 620h0M1954 685h0M2022 687h0M1290 833h0M1426 872h0M1519 985h0M1612 1006h0M1364 1025h0M899 920h0M922 925h0M942 918h0M1129 974h0M1149 957h0M1111 971h0M1015 993h0M1243 943h0M637 958h0M1212 1276h0M1745 1261h0M1649 1275h0M1631 1415h0M2044 636h0" stroke="#36106b"/>
<path d="M1202 464h0M1317 429h0M535 797h0M521 702h0M507 833h0M414 799h0M504 796h0M467 878h0M466 736h0M581 818h0M703 863h0M447 880h0M638 881h0M496 830h0M600 714h0M467 885h0M577 912h0M637 915h0M679 895h0M737 865h0M727 870h0M673 731h0M629 722h0M745 732h0M740 719h0M755 730h0M721 750h0M666 686h0M673 703h0M763 758h0M755 732h0M806 788h0M629 739h0M678 744h0M778 832h0M893 814h0M839 823h0M832 828h0M901 819h0M870 728h0M1439 625h0M1904 626h0M1948 622h0M1886 677h0M1888 704h0M2207 696h0M1286 826h0M1459 969h0M1524 996h0M1314 1052h0M997 923h0M1150 1001h0M1069 953h0M954 1012h0M1271 1269h0M1776 1255h0M1698 1245h0M1661 1302h0M1642 1296h0" stroke="#51127c"/>
<path d="M1216 245h0M1083 453h0M454 803h0M446 740h0M441 777h0M545 765h0M572 770h0M535 803h0M556 779h0M529 741h0M783 755h0M659 704h0M863 816h0M914 817h0M901 813h0M859 835h0M2140 593h0M2213 610h0M1877 649h0M1932 670h0M2078 670h0M1343 871h0M1392 899h0M1424 975h0M1545 1003h0M1560 997h0M1436 1008h0M976 922h0M1138 962h0M1195 964h0M850 1254h0M1017 1289h0M1683 1278h0M1687 1306h0M1499 1293h0M1420 1431h0M1503 1004h0" stroke="#6a1c81"/>
<path d="M1473 483h0M585 762h0M580 824h0M533 801h0M483 871h0M537 743h0M434 796h0M576 920h0M700 676h0M658 726h0M770 775h0M677 696h0M724 732h0M702 733h0M705 752h0M639 721h0M804 794h0M2123 598h0M1842 621h0M1983 620h0M1158 949h0M1028 946h0M1155 958h0M863 1001h0M1005 1268h0M1624 1283h0M1704 1263h0" stroke="#832681"/>
<path d="M788 781h0M714 747h0M798 786h0M2004 699h0M2065 662h0M1388 858h0M916 920h0M985 935h0M1765 1262h0" stroke="#b73779"/>
<path d="M1281 333h0M590 919h0M608 926h0M710 754h0M898 901h0" stroke="#e65164"/>
<path d="M1202 263h0M1188 271h0M1164 255h0M1184 258h0M1153 301h0M1190 253h0M1210 267h0M1153 274h0M1277 282h0M1216 252h0M1250 273h0M1203 248h0M1174 300h0M1152 297h0M1184 270h0M1217 270h0M1145 282h0M1162 306h0M1174 300h0M1198 265h0M1212 262h0M1267 267h0M1184 261h0M1255 265h0M1168 297h0M1187 245h0M1256 272h0M1203 270h0M1164 292h0M1166 297h0M1159 275h0M1153 267h0M1240 265h0M1253 267h0M1269 281h0M1232 245h0M1284 280h0M1206 272h0M1202 257h0M1142 294h0M1141 290h0M1206 271h0M1259 278h0M1196 257h0M1190 244h0M1157 301h0M1167 255h0M1258 272h0M1164 283h0M1233 267h0M1163 293h0M1192 272h0M1182 276h0M1220 256h0M1180 263h0M1193 261h0M1240 251h0M1161 259h0M1172 286h0M1185 244h0M1199 254h0M1292 373h0M1345 306h0M1272 391h0M1371 364h0M1349 405h0M1353 318h0M1329 347h0M1276 324h0M1352 360h0M1271 331h0M1281 369h0M1345 365h0M1364 326h0M1282 332h0M1373 389h0M1329 313h0M1325 319h0M1349 401h0M1312 308h0M1295 381h0M1306 354h0M1269 340h0M1289 402h0M1308 407h0M1351 357h0M1327 305h0M1378 387h0M1252 310h0M1303 291h0M1329 402h0M1275 308h0M1282 313h0M1277 362h0M1366 399h0M1324 385h0M1353 321h0M1317 292h0M1306 293h0M1341 347h0M1312 381h0M1314 390h0M1290 380h0M1367 389h0M1278 350h0M1375 396h0M1332 400h0M1286 357h0M1364 337h0M1323 390h0M1257 337h0M1279 321h0M1315 401h0M1355 318h0M1351 318h0M1305 314h0M1296 299h0M1355 335h0M1362 360h0M1357 350h0M1288 402h0M1263 344h0M1325 380h0M1298 393h0M1265 288h0M1300 326h0M1317 339h0M1355 352h0M1381 371h0M1321 395h0M1363 376h0M1267 311h0M1337 394h0M1381 392h0M1327 395h0M1306 305h0M1291 411h0M1369 356h0M1339 334h0M1298 356h0M1297 356h0M1259 297h0M1301 400h0M1351 387h0M1269 364h0M1300 346h0M1282 390h0M1356 333h0M1340 394h0M1293 280h0M1267 303h0M1277 394h0M1254 323h0M1283 386h0M1369 392h0M1348 306h0M1305 324h0M1320 403h0M1308 334h0M1275 370h0M1292 298h0M1340 362h0M1318 413h0M1289 362h0M1278 301h0M1271 331h0M1285 411h0M1370 360h0M1289 411h0M1346 332h0M1370 383h0M1366 399h0M1312 354h0M1303 297h0M1277 327h0M1311 305h0M1328 342h0M1377 372h0M1308 350h0M1334 384h0M1304 333h0M1271 295h0M1280 358h0M1292 382h0M1299 287h0M1270 305h0M1293 309h0M1312 311h0M1312 291h0M1280 363h0M1292 353h0M1246 293h0M1196 404h0M1159 400h0M1179 414h0M1208 333h0M1204 414h0M1191 358h0M1160 400h0M1189 340h0M1211 421h0M1238 365h0M1181 322h0M1209 356h0M1237 368h0M1189 356h0M1229 351h0M1231 335h0M1210 282h0M1158 395h0M1207 410h0M1190 386h0M1194 339h0M1180 401h0M1187 337h0M1192 298h0M1190 370h0M1191 431h0M1213 393h0M1201 290h0M1233 306h0M1237 298h0M1201 382h0M1196 309h0M1195 399h0M1189 311h0M1237 318h0M1235 342h0M1208 377h0M1152 406h0M1179 426h0M1207 325h0M1200 369h0M1228 392h0M1200 403h0M1193 294h0M1238 296h0M1240 337h0M1202 388h0M1214 343h0M1194 379h0M1243 299h0M1264 397h0M1199 318h0M1226 305h0M1173 347h0M1239 351h0M1236 426h0M1233 290h0M1221 399h0M1169 384h0M1216 408h0M1235 368h0M1225 322h0M1164 323h0M1169 410h0M1218 313h0M1221 358h0M1221 293h0M1247 373h0M1177 321h0M1201 368h0M1142 452h0M1239 464h0M1202 451h0M1147 451h0M1166 450h0M1148 460h0M1152 449h0M1181 453h0M1167 456h0M1202 468h0M1155 445h0M1163 455h0M1170 453h0M1231 457h0M1159 444h0M1189 445h0M1202 470h0M1189 444h0M1191 468h0M1219 472h0M1238 466h0M1192 452h0M1159 450h0M1213 471h0M1197 448h0M1096 424h0M1071 435h0M1087 426h0M1095 420h0M1078 417h0M1089 412h0M1074 417h0M1088 441h0M1092 423h0M1092 427h0M1091 427h0M1087 430h0M1078 443h0M1094 441h0M1098 431h0M1080 439h0M1136 447h0M1137 446h0M1144 439h0M1427 442h0M1269 418h0M1435 432h0M1441 445h0M1455 455h0M1467 475h0M1457 469h0M1465 479h0M1479 496h0M1962 325h0M1972 330h0M2006 358h0M1962 329h0M1998 352h0M2003 350h0M1982 339h0M1983 353h0M2006 330h0M1988 347h0M2013 349h0M1980 322h0M2020 338h0M2005 335h0M1964 330h0M1992 352h0M1974 326h0M2003 330h0M1979 328h0M1957 335h0M2014 345h0M1987 323h0M1973 338h0M1973 330h0M2000 344h0M1963 334h0M2017 342h0M1973 319h0M1992 346h0M2004 352h0M1973 327h0M1972 353h0M1938 372h0M1945 364h0M1944 363h0M1934 374h0M666 473h0M677 479h0M679 483h0M792 468h0M828 491h0M835 490h0M834 488h0M803 540h0M798 551h0M797 548h0M798 550h0M797 544h0M803 545h0M490 744h0M486 679h0M475 680h0M520 716h0M622 846h0M531 752h0M530 698h0M743 871h0M581 701h0M596 783h0M443 849h0M443 823h0M468 886h0M560 895h0M441 867h0M434 694h0M599 738h0M442 745h0M698 887h0M444 737h0M468 773h0M595 723h0M617 864h0M460 715h0M714 885h0M415 709h0M417 729h0M461 753h0M591 890h0M542 878h0M469 698h0M589 871h0M527 870h0M624 818h0M408 822h0M530 830h0M446 704h0M480 827h0M585 727h0M650 881h0M647 856h0M543 869h0M565 912h0M421 722h0M570 861h0M500 709h0M446 778h0M453 723h0M451 864h0M492 903h0M571 756h0M419 713h0M477 681h0M584 911h0M497 705h0M451 871h0M603 724h0M566 811h0M649 909h0M489 900h0M564 765h0M468 682h0M473 897h0M581 725h0M407 817h0M470 855h0M541 756h0M619 787h0M472 795h0M491 798h0M574 863h0M745 861h0M437 736h0M603 703h0M425 703h0M635 854h0M576 835h0M693 875h0M562 726h0M412 758h0M616 875h0M592 709h0M497 697h0M518 718h0M560 858h0M580 702h0M450 688h0M442 812h0M726 873h0M454 688h0M465 724h0M529 731h0M454 739h0M592 883h0M612 850h0M519 855h0M489 724h0M594 762h0M557 740h0M435 741h0M550 812h0M546 784h0M585 867h0M480 891h0M515 696h0M585 847h0M615 850h0M634 912h0M548 699h0M450 699h0M456 729h0M565 849h0M516 758h0M415 787h0M432 811h0M416 769h0M480 779h0M479 704h0M447 822h0M456 686h0M583 735h0M630 844h0M440 697h0M476 749h0M442 786h0M611 854h0M612 716h0M507 700h0M422 715h0M516 853h0M493 727h0M558 835h0M479 874h0M438 696h0M486 680h0M478 856h0M510 693h0M505 879h0M561 797h0M436 711h0M581 788h0M600 693h0M419 737h0M616 711h0M400 797h0M462 868h0M580 769h0M513 871h0M546 710h0M549 776h0M467 889h0M620 713h0M410 796h0M414 789h0M474 685h0M441 770h0M577 756h0M505 835h0M560 828h0M486 859h0M605 697h0M447 692h0M470 885h0M403 790h0M637 857h0M593 922h0M542 756h0M594 788h0M568 870h0M575 792h0M439 728h0M464 840h0M481 851h0M539 740h0M481 736h0M539 899h0M509 837h0M457 699h0M656 892h0M446 881h0M592 758h0M411 717h0M539 849h0M585 906h0M547 727h0M740 873h0M623 892h0M462 716h0M593 789h0M610 763h0M460 861h0M601 926h0M603 910h0M564 936h0M594 928h0M600 913h0M661 911h0M624 913h0M627 920h0M672 896h0M691 896h0M696 896h0M700 879h0M662 902h0M712 885h0M733 864h0M758 855h0M720 867h0M670 683h0M713 711h0M659 698h0M801 791h0M813 797h0M667 713h0M668 704h0M817 798h0M840 803h0M661 724h0M685 709h0M678 714h0M750 762h0M688 686h0M841 792h0M842 791h0M762 752h0M676 729h0M683 707h0M809 796h0M710 729h0M676 715h0M675 689h0M715 735h0M846 799h0M674 705h0M660 727h0M649 711h0M762 733h0M687 683h0M661 692h0M811 786h0M799 787h0M801 792h0M755 757h0M830 789h0M843 801h0M689 674h0M762 767h0M716 734h0M666 710h0M683 670h0M779 771h0M639 705h0M773 741h0M775 767h0M795 789h0M682 689h0M690 726h0M702 853h0M667 799h0M738 780h0M672 786h0M637 728h0M633 744h0M734 835h0M674 771h0M653 786h0M659 745h0M660 810h0M668 854h0M683 806h0M683 856h0M643 824h0M657 837h0M680 782h0M737 804h0M750 812h0M756 786h0M760 803h0M736 819h0M633 769h0M724 830h0M718 754h0M730 799h0M844 817h0M926 819h0M887 825h0M846 814h0M856 811h0M902 826h0M839 830h0M858 825h0M871 836h0M842 823h0M879 829h0M862 834h0M927 818h0M855 825h0M832 825h0M841 830h0M832 828h0M926 822h0M866 831h0M900 814h0M848 826h0M834 821h0M872 830h0M851 819h0M852 825h0M879 829h0M844 832h0M829 829h0M877 816h0M897 828h0M842 725h0M823 714h0M844 725h0M837 722h0M840 725h0M852 723h0M871 729h0M854 722h0M892 736h0M874 784h0M840 894h0M875 861h0M883 869h0M1400 674h0M1404 559h0M1333 568h0M1327 647h0M1488 646h0M1480 599h0M1422 674h0M1552 644h0M1515 680h0M1394 541h0M1446 619h0M1369 606h0M1418 680h0M1399 565h0M1512 619h0M1304 586h0M1572 641h0M1392 672h0M1538 672h0M1397 667h0M1393 554h0M1309 648h0M1349 617h0M1551 662h0M1534 672h0M1389 560h0M1392 680h0M1314 595h0M1333 595h0M1479 672h0M1404 641h0M1430 649h0M1400 610h0M1398 574h0M1411 550h0M1322 568h0M1573 643h0M1356 588h0M1487 638h0M1342 561h0M1544 628h0M1291 647h0M1540 645h0M1348 644h0M1498 658h0M1451 574h0M1396 617h0M1352 669h0M1362 630h0M1339 611h0M1307 633h0M1429 635h0M1429 671h0M1319 554h0M1366 536h0M1364 575h0M1554 636h0M1354 618h0M1512 629h0M1485 577h0M1368 635h0M1440 544h0M1402 637h0M1423 653h0M1431 604h0M1324 608h0M1553 612h0M1503 636h0M1427 623h0M1319 660h0M1569 649h0M1507 576h0M1442 538h0M1406 662h0M1343 605h0M1506 677h0M1418 656h0M1371 559h0M1505 663h0M1377 615h0M1292 633h0M1352 674h0M1418 590h0M1433 589h0M1395 529h0M1299 594h0M1359 638h0M1415 551h0M1493 606h0M1278 593h0M1363 569h0M1511 625h0M1335 551h0M1469 593h0M1328 581h0M1317 625h0M1343 642h0M1519 603h0M1526 608h0M1507 601h0M1291 589h0M1391 606h0M1516 677h0M1508 681h0M1512 600h0M1451 604h0M1291 612h0M1312 624h0M1539 654h0M1409 530h0M1286 605h0M1542 653h0M1512 584h0M1545 625h0M1360 591h0M1353 535h0M1326 585h0M1324 578h0M1383 624h0M1452 639h0M1348 624h0M1298 569h0M1403 553h0M1355 543h0M1403 533h0M1382 600h0M1532 651h0M1368 662h0M1379 594h0M1324 603h0M1352 677h0M1342 668h0M1397 586h0M1298 591h0M1368 644h0M1337 640h0M1364 610h0M1369 636h0M1362 546h0M1313 626h0M1492 637h0M1295 577h0M1277 612h0M1380 602h0M1393 592h0M1535 673h0M1317 586h0M1341 602h0M1420 661h0M1516 619h0M1505 676h0M1391 587h0M1490 579h0M1526 656h0M1387 592h0M1459 585h0M1337 637h0M1358 681h0M1322 625h0M1275 616h0M1561 660h0M1419 681h0M1449 687h0M1538 639h0M1491 607h0M1394 574h0M1365 648h0M1286 607h0M1293 614h0M1479 581h0M1457 605h0M1477 667h0M1541 671h0M1520 683h0M1473 648h0M1293 648h0M1475 660h0M1452 568h0M1336 663h0M1317 599h0M1409 672h0M1439 674h0M1486 677h0M1440 580h0M1336 635h0M1404 523h0M1450 574h0M1556 667h0M1556 651h0M1278 588h0M1348 536h0M1414 674h0M1509 596h0M1505 617h0M1485 575h0M1375 561h0M1391 576h0M1411 670h0M1441 640h0M1533 626h0M1485 626h0M1350 646h0M1385 541h0M1481 587h0M1402 636h0M1399 520h0M1474 651h0M1382 594h0M1418 606h0M1379 549h0M1374 554h0M1401 563h0M1397 629h0M1304 623h0M1447 669h0M1481 593h0M1431 610h0M1434 688h0M1507 609h0M1544 625h0M1301 622h0M1352 563h0M1568 653h0M1387 637h0M1374 564h0M1494 661h0M1371 533h0M1284 617h0M1533 631h0M1285 599h0M1385 647h0M1349 627h0M1340 549h0M1367 643h0M1370 603h0M1394 611h0M1392 620h0M1569 718h0M1541 717h0M1561 705h0M1603 725h0M1569 662h0M1596 702h0M1418 702h0M1483 685h0M1519 699h0M1593 657h0M1560 676h0M1596 718h0M1594 708h0M1463 706h0M1572 682h0M1518 704h0M1524 728h0M1588 662h0M1604 714h0M1522 734h0M1472 687h0M1593 666h0M1464 724h0M1465 712h0M1504 723h0M1586 718h0M1508 731h0M1529 736h0M1539 694h0M1543 687h0M1545 702h0M1517 741h0M1399 691h0M1585 670h0M1501 713h0M1589 746h0M1523 701h0M1582 746h0M1524 716h0M1522 710h0M1545 690h0M1426 713h0M1496 720h0M1546 698h0M1502 703h0M1502 724h0M1552 746h0M1575 667h0M1563 745h0M1560 723h0M1588 680h0M1452 725h0M1417 701h0M1566 680h0M1513 719h0M1477 689h0M1564 724h0M1487 714h0M1576 742h0M1448 692h0M1450 722h0M1400 695h0M1563 686h0M1573 672h0M1588 687h0M1574 662h0M1555 706h0M1580 704h0M1605 703h0M1575 714h0M1468 727h0M1549 747h0M1586 703h0M1456 693h0M1587 745h0M1496 724h0M1527 709h0M1482 693h0M1573 681h0M1434 699h0M1519 709h0M1596 727h0M1571 696h0M1476 723h0M1452 690h0M1576 744h0M1511 719h0M1669 646h0M1674 708h0M1703 640h0M1612 668h0M1686 641h0M1606 690h0M1667 715h0M1645 686h0M1627 688h0M1645 714h0M1694 652h0M1637 648h0M1658 673h0M1654 680h0M1666 660h0M1590 663h0M1668 649h0M1647 710h0M1608 687h0M1633 703h0M1645 685h0M1657 713h0M1670 666h0M1613 692h0M1640 654h0M1620 690h0M1608 659h0M1633 650h0M1660 698h0M1628 673h0M1662 714h0M1702 653h0M1686 666h0M1668 639h0M1645 664h0M1670 648h0M1682 661h0M1679 705h0M1627 724h0M1689 661h0M1661 706h0M1641 659h0M1597 672h0M1630 708h0M1639 670h0M1670 694h0M1671 694h0M1643 710h0M1554 596h0M1631 596h0M1462 555h0M1608 609h0M1585 609h0M1616 595h0M1575 564h0M1528 571h0M1586 608h0M1497 554h0M1561 601h0M1527 572h0M1538 554h0M1607 602h0M1728 658h0M1726 656h0M1721 610h0M1715 673h0M1723 669h0M1730 677h0M1720 608h0M1719 658h0M1722 649h0M1718 688h0M1713 608h0M1402 730h0M1546 749h0M2015 604h0M2008 608h0M2018 602h0M2008 609h0M2048 594h0M2032 603h0M2055 602h0M2081 598h0M2067 590h0M2072 595h0M2063 592h0M2091 590h0M2093 598h0M2098 594h0M2112 598h0M2115 593h0M2145 592h0M2127 592h0M2125 588h0M2132 590h0M2143 597h0M2135 588h0M2163 594h0M2163 593h0M2162 588h0M2167 592h0M2167 591h0M2170 599h0M2168 610h0M2191 606h0M2192 602h0M2216 630h0M2197 633h0M2208 614h0M2196 601h0M2200 619h0M2208 611h0M2178 616h0M2200 623h0M2199 627h0M2205 620h0M2194 609h0M2200 604h0M2215 607h0M2194 613h0M2222 619h0M2215 615h0M2187 622h0M2202 619h0M2222 618h0M2196 613h0M2197 627h0M1945 731h0M1934 731h0M1941 734h0M1937 732h0M1926 730h0M1933 739h0M1932 736h0M1923 736h0M1922 729h0M1991 614h0M2125 588h0M1753 623h0M1816 639h0M1976 625h0M2088 594h0M1909 657h0M1845 618h0M1884 651h0M1815 621h0M1813 626h0M1972 610h0M2012 602h0M2006 620h0M1742 608h0M2027 611h0M2177 616h0M1772 626h0M1807 653h0M1853 644h0M1898 638h0M1796 618h0M1913 637h0M2145 594h0M1987 608h0M1774 623h0M1758 619h0M1829 645h0M1894 620h0M1871 612h0M2042 599h0M1748 597h0M2197 625h0M1790 612h0M1771 619h0M2091 599h0M1765 603h0M1743 637h0M1828 611h0M2009 622h0M1845 629h0M1790 625h0M2119 602h0M1923 653h0M1750 616h0M1952 624h0M2176 619h0M1942 615h0M2092 588h0M1758 651h0M1861 615h0M2030 613h0M2150 604h0M1916 655h0M1889 650h0M1821 622h0M1887 648h0M1772 599h0M1983 619h0M1830 634h0M1958 622h0M2063 601h0M1858 610h0M2102 595h0M1927 614h0M1750 629h0M2175 601h0M1871 655h0M1930 627h0M2062 593h0M1749 633h0M1811 640h0M1800 645h0M1928 644h0M1967 613h0M1772 611h0M1841 623h0M1990 624h0M1861 622h0M1757 622h0M2135 588h0M1956 612h0M1838 609h0M1777 605h0M1815 656h0M1761 636h0M1877 636h0M1743 618h0M1917 613h0M1880 643h0M2168 605h0M1971 624h0M2077 598h0M1932 613h0M2144 609h0M1834 604h0M1911 636h0M2002 598h0M2203 624h0M2020 613h0M1779 614h0M1874 645h0M1815 620h0M2209 606h0M1852 653h0M1793 647h0M1954 621h0M1864 651h0M2059 607h0M2203 623h0M1757 628h0M2041 605h0M2033 597h0M1744 599h0M1802 648h0M1917 649h0M1887 655h0M1978 626h0M1742 616h0M2053 610h0M1786 615h0M2116 594h0M2198 631h0M1773 644h0M1834 628h0M2083 596h0M1820 647h0M2165 599h0M1914 624h0M1817 611h0M1823 658h0M2172 603h0M1838 652h0M1903 647h0M2152 595h0M1747 614h0M1910 635h0M1759 639h0M1895 631h0M1841 640h0M2169 599h0M1770 609h0M1822 639h0M1897 640h0M1781 650h0M1781 631h0M1941 617h0M1809 648h0M2108 603h0M2220 619h0M2121 595h0M2078 607h0M1978 617h0M1885 652h0M1838 754h0M1835 756h0M1832 744h0M1869 739h0M1818 760h0M1844 754h0M1849 740h0M1848 752h0M1926 679h0M1908 704h0M1921 709h0M1915 684h0M1919 706h0M1938 689h0M1887 728h0M1915 686h0M1909 725h0M1888 680h0M1935 692h0M1903 718h0M1913 707h0M1879 714h0M1920 694h0M1881 683h0M1867 712h0M1869 675h0M1857 675h0M1932 690h0M1893 699h0M1866 687h0M1872 672h0M1888 679h0M1893 703h0M1905 705h0M1899 717h0M1901 725h0M1935 677h0M1923 712h0M1915 687h0M1901 671h0M1879 674h0M1898 668h0M1915 676h0M1886 722h0M1876 679h0M1924 707h0M1921 695h0M1910 724h0M1923 688h0M1945 683h0M1921 688h0M1850 703h0M1902 680h0M1873 674h0M1980 707h0M2020 695h0M1988 711h0M2018 692h0M2007 694h0M1962 719h0M1935 729h0M2033 684h0M1945 726h0M1970 720h0M1991 710h0M2022 687h0M1940 730h0M2010 691h0M2174 636h0M2032 678h0M1971 691h0M2031 674h0M2123 648h0M2105 660h0M2056 654h0M2058 679h0M2073 679h0M2106 667h0M2083 670h0M2132 670h0M2212 686h0M2160 674h0M2185 688h0M2191 691h0M2166 672h0M2165 671h0M1777 713h0M1291 832h0M1296 840h0M1281 831h0M1283 828h0M1281 827h0M1312 844h0M1302 843h0M1305 845h0M1318 850h0M1323 855h0M1332 864h0M1331 860h0M1329 863h0M1326 863h0M1322 861h0M1334 866h0M1361 889h0M1366 892h0M1366 893h0M1357 885h0M1360 888h0M1361 889h0M1362 891h0M1352 877h0M1380 896h0M1372 895h0M1394 897h0M1383 894h0M1397 899h0M1387 892h0M1295 862h0M1376 904h0M1420 861h0M1424 878h0M1445 923h0M1448 924h0M1457 939h0M1482 934h0M1527 987h0M1612 968h0M1397 994h0M1478 991h0M1464 970h0M1510 977h0M1606 967h0M1436 961h0M1556 947h0M1610 975h0M1577 937h0M1618 1004h0M1499 969h0M1484 982h0M1608 985h0M1592 985h0M1434 998h0M1520 1007h0M1455 962h0M1612 981h0M1509 984h0M1522 980h0M1518 972h0M1445 1000h0M1512 977h0M1564 976h0M1596 1010h0M1476 968h0M1582 990h0M1491 995h0M1585 936h0M1430 1006h0M1437 995h0M1459 1004h0M1437 986h0M1588 943h0M1608 976h0M1453 982h0M1590 972h0M1604 1009h0M1589 950h0M1526 993h0M1497 985h0M1468 982h0M1593 995h0M1559 966h0M1448 1003h0M1433 1003h0M1482 965h0M1449 989h0M1457 965h0M1600 958h0M1581 940h0M1479 965h0M1632 960h0M1561 1019h0M1442 970h0M1584 940h0M1642 969h0M1588 942h0M1540 976h0M1520 981h0M1598 960h0M1463 985h0M1580 989h0M1544 954h0M1423 969h0M1609 968h0M1591 957h0M1523 956h0M1314 1052h0M1312 1050h0M1313 1049h0M1300 1060h0M1307 1054h0M1307 1051h0M1334 1044h0M1321 1049h0M1318 1053h0M1315 1044h0M1326 1049h0M1340 1031h0M1341 1041h0M1344 1036h0M1357 1024h0M1362 1034h0M1356 1029h0M1399 1011h0M1406 1018h0M1376 979h0M1384 1000h0M1422 1007h0M1275 936h0M1283 940h0M1308 945h0M891 887h0M881 886h0M881 887h0M891 903h0M886 906h0M883 896h0M883 895h0M903 911h0M892 913h0M919 922h0M940 925h0M937 923h0M951 927h0M939 914h0M981 926h0M966 925h0M969 923h0M964 917h0M1001 927h0M1003 930h0M863 938h0M874 940h0M874 940h0M958 952h0M975 949h0M993 942h0M997 948h0M1013 1003h0M1053 984h0M1149 967h0M1082 989h0M1074 940h0M1030 953h0M1110 942h0M1036 972h0M1064 986h0M1031 943h0M1057 969h0M1054 1018h0M1101 980h0M1022 962h0M998 984h0M1107 943h0M1173 959h0M1150 1000h0M1030 944h0M1092 944h0M1068 971h0M1089 948h0M1119 1001h0M1020 1010h0M1028 1011h0M1014 993h0M1093 961h0M1073 1012h0M1157 985h0M1091 1003h0M1165 949h0M1092 947h0M1093 951h0M1040 990h0M1120 948h0M1019 971h0M1057 940h0M1111 979h0M1128 998h0M1090 958h0M1035 979h0M1079 982h0M1028 959h0M1156 995h0M1128 987h0M1078 974h0M1085 1003h0M1046 989h0M1020 963h0M1039 998h0M1086 942h0M1044 1028h0M1162 981h0M1053 1008h0M1033 961h0M1088 988h0M1006 985h0M1099 949h0M1025 978h0M1136 999h0M1151 983h0M1040 998h0M1081 955h0M1087 970h0M1046 988h0M1047 941h0M1000 981h0M1071 1006h0M1025 973h0M1090 1009h0M1060 1025h0M1107 981h0M1076 1005h0M1086 951h0M1101 956h0M1022 1016h0M1129 974h0M1048 981h0M994 1019h0M1232 915h0M1251 948h0M1192 991h0M1198 1013h0M1194 1024h0M1214 1020h0M1252 937h0M1280 945h0M1285 946h0M717 994h0M682 1014h0M705 997h0M693 1013h0M729 1050h0M688 997h0M717 1052h0M708 1039h0M690 983h0M716 994h0M720 1054h0M688 987h0M708 995h0M715 1032h0M693 997h0M723 1026h0M734 1050h0M677 997h0M700 1008h0M708 1032h0M700 1024h0M721 1045h0M689 1015h0M730 1031h0M706 978h0M696 1016h0M837 975h0M733 1034h0M786 1011h0M720 1046h0M788 1007h0M769 1030h0M808 998h0M801 1003h0M733 1035h0M729 1051h0M800 999h0M815 978h0M752 1031h0M746 1027h0M770 1019h0M793 1011h0M786 1009h0M749 1020h0M794 998h0M751 1029h0M762 1028h0M774 1011h0M721 1040h0M742 1042h0M728 1028h0M779 1021h0M750 1024h0M810 985h0M744 1025h0M769 1015h0M774 1020h0M786 1000h0M650 963h0M654 966h0M737 944h0M735 947h0M734 950h0M744 952h0M752 944h0M610 946h0M699 953h0M749 925h0M790 921h0M805 922h0M854 914h0M782 954h0M768 986h0M727 1015h0M752 900h0M743 893h0M857 934h0M813 921h0M828 1177h0M828 1179h0M816 1183h0M822 1174h0M967 1343h0M927 1334h0M909 1321h0M944 1335h0M816 1238h0M816 1208h0M896 1318h0M832 1252h0M868 1291h0M980 1353h0M907 1320h0M834 1260h0M904 1301h0M1022 1370h0M961 1354h0M957 1358h0M962 1349h0M911 1311h0M873 1291h0M852 1288h0M816 1232h0M1011 1369h0M908 1323h0M996 1357h0M1006 1353h0M963 1339h0M878 1291h0M882 1313h0M963 1357h0M980 1352h0M926 1331h0M840 1275h0M973 1353h0M827 1232h0M804 1217h0M940 1344h0M987 1366h0M844 1266h0M948 1331h0M1004 1355h0M821 1224h0M816 1234h0M996 1354h0M814 1218h0M833 1240h0M889 1299h0M807 1198h0M945 1339h0M837 1255h0M875 1301h0M844 1247h0M1015 1354h0M898 1302h0M813 1195h0M870 1276h0M1031 1365h0M894 1319h0M957 1350h0M1024 1361h0M824 1248h0M958 1344h0M865 1288h0M918 1327h0M916 1308h0M890 1316h0M872 1289h0M929 1323h0M929 1321h0M883 1313h0M940 1344h0M838 1247h0M1006 1370h0M893 1306h0M911 1315h0M837 1254h0M928 1339h0M920 1308h0M814 1198h0M909 1308h0M931 1324h0M1005 1364h0M805 1205h0M845 1259h0M879 1293h0M1018 1366h0M873 1303h0M805 1203h0M799 1206h0M860 1295h0M952 1352h0M1015 1239h0M1022 1322h0M1010 1287h0M1028 1234h0M1002 1300h0M998 1316h0M981 1302h0M992 1330h0M1030 1238h0M1019 1340h0M983 1278h0M994 1270h0M1019 1346h0M973 1262h0M1008 1344h0M1018 1225h0M967 1317h0M1014 1277h0M1029 1225h0M991 1336h0M1026 1228h0M1036 1278h0M1017 1276h0M1005 1337h0M1028 1347h0M986 1288h0M944 1299h0M994 1273h0M1001 1235h0M1038 1266h0M1006 1273h0M967 1293h0M966 1323h0M1010 1231h0M1034 1251h0M990 1282h0M1020 1240h0M983 1284h0M1009 1267h0M1035 1283h0M1011 1233h0M1000 1250h0M1013 1246h0M1035 1272h0M1032 1261h0M1013 1252h0M1032 1246h0M1031 1256h0M1005 1257h0M1000 1261h0M1029 1232h0M1031 1227h0M1030 1267h0M1000 1234h0M1028 1249h0M1002 1259h0M1007 1232h0M1010 1243h0M868 1210h0M903 1220h0M909 1224h0M913 1227h0M923 1236h0M927 1236h0M910 1264h0M913 1277h0M944 1265h0M1164 1294h0M1241 1261h0M1230 1286h0M1249 1263h0M1167 1295h0M1190 1279h0M1217 1282h0M1169 1292h0M1227 1275h0M1219 1278h0M1183 1278h0M1172 1293h0M1221 1263h0M1255 1251h0M1181 1290h0M1243 1281h0M1270 1280h0M1200 1278h0M1221 1287h0M1239 1277h0M1214 1290h0M1195 1275h0M1244 1272h0M1167 1291h0M1126 1296h0M1250 1285h0M1188 1292h0M1224 1284h0M1249 1271h0M1227 1287h0M1228 1277h0M1253 1255h0M1195 1281h0M1165 1285h0M1255 1285h0M1233 1269h0M1255 1277h0M1196 1288h0M1130 1297h0M1216 1263h0M1167 1285h0M1244 1275h0M1251 1283h0M1242 1282h0M1233 1264h0M1245 1281h0M1217 1263h0M1097 1301h0M1444 1196h0M1465 1198h0M1461 1200h0M1455 1198h0M1485 1187h0M1477 1197h0M1495 1189h0M1489 1195h0M1520 1172h0M1522 1169h0M1567 1230h0M1590 1251h0M1574 1338h0M1591 1362h0M1667 1280h0M1737 1273h0M1662 1266h0M1691 1248h0M1775 1256h0M1739 1267h0M1667 1278h0M1613 1300h0M1761 1262h0M1626 1306h0M1680 1314h0M1663 1265h0M1688 1248h0M1738 1260h0M1737 1267h0M1665 1307h0M1766 1261h0M1615 1306h0M1727 1284h0M1634 1305h0M1642 1274h0M1649 1303h0M1643 1263h0M1631 1272h0M1685 1255h0M1698 1308h0M1678 1311h0M1623 1309h0M1683 1291h0M1726 1280h0M1605 1282h0M1677 1256h0M1675 1311h0M1652 1258h0M1705 1260h0M1696 1310h0M1717 1291h0M1687 1277h0M1765 1259h0M1684 1247h0M1639 1308h0M1638 1267h0M1633 1283h0M1630 1292h0M1672 1280h0M1669 1286h0M1652 1256h0M1704 1276h0M1635 1306h0M1644 1259h0M1705 1282h0M1618 1274h0M1632 1307h0M1621 1274h0M1759 1252h0M1675 1259h0M1495 1301h0M1502 1296h0M1493 1299h0M1519 1300h0M1518 1297h0M1504 1300h0M1513 1294h0M1508 1293h0M1549 1302h0M1539 1309h0M1543 1299h0M1531 1301h0M1561 1289h0M1712 1345h0M1726 1360h0M1692 1354h0M1612 1357h0M1667 1404h0M1618 1352h0M1607 1393h0M1704 1390h0M1669 1345h0M1609 1390h0M1725 1357h0M1623 1357h0M1628 1336h0M1657 1352h0M1633 1393h0M1666 1382h0M1630 1402h0M1705 1355h0M1665 1370h0M1635 1411h0M1589 1387h0M1608 1357h0M1609 1361h0M1611 1354h0M1605 1388h0M1679 1373h0M1709 1370h0M1719 1346h0M1706 1348h0M1732 1357h0M1712 1354h0M1702 1350h0M1710 1370h0M1717 1362h0M1713 1419h0M1709 1425h0M1725 1420h0M1726 1415h0M1710 1411h0M1709 1415h0M1517 1478h0M1677 1478h0M1657 1446h0M1656 1457h0M1661 1471h0M1608 1472h0M1590 1466h0M1677 1437h0M1516 1473h0M1624 1454h0M1660 1483h0M1656 1483h0M1638 1475h0M1551 1421h0M1520 1452h0M1535 1442h0M1610 1440h0M1700 1447h0M1554 1427h0M1674 1436h0M1701 1447h0M1604 1473h0M1660 1423h0M1565 1452h0M1673 1442h0M1659 1436h0M1532 1476h0M1659 1473h0M1616 1447h0M1555 1479h0M1633 1487h0M1648 1421h0M1539 1431h0M1550 1461h0M1659 1482h0M1628 1478h0M1639 1432h0M1554 1428h0M1600 1467h0M1686 1463h0M1639 1482h0M1641 1469h0M1558 1426h0M1552 1490h0M1646 1422h0M1613 1424h0M1549 1476h0M1610 1443h0M1520 1455h0M1649 1445h0M1578 1465h0M1586 1433h0M1660 1466h0M1614 1423h0M1644 1436h0M1593 1427h0M1594 1486h0M1551 1430h0M1665 1446h0M1555 1476h0M1680 1484h0M1537 1467h0M1595 1442h0M1567 1464h0M1583 1481h0M1553 1448h0M1523 1475h0M1632 1446h0M1660 1461h0M1691 1442h0M1615 1427h0M1519 1480h0M1663 1488h0M1618 1443h0M1589 1433h0M1698 1436h0M1567 1459h0M1550 1470h0M1545 1461h0M1608 1433h0M1648 1467h0M1582 1496h0M1555 1486h0M1601 1457h0M1598 1423h0M1689 1460h0M1590 1476h0M1597 1479h0M1558 1477h0M1519 1465h0M1630 1427h0M1544 1471h0M1559 1438h0M1543 1423h0M1675 1465h0M1520 1455h0M1542 1434h0M1605 1450h0M1594 1433h0M1527 1468h0M1622 1426h0M1645 1480h0M1519 1476h0M1686 1461h0M1638 1427h0M1674 1474h0M1559 1470h0M1561 1494h0M1568 1470h0M1681 1462h0M1545 1490h0M1526 1468h0M1658 1447h0M1695 1442h0M1653 1438h0M1679 1467h0M1604 1490h0M1536 1469h0M1635 1417h0M1546 1444h0M1537 1437h0M1618 1487h0M1592 1473h0M1560 1488h0M1612 1492h0M1569 1415h0M1658 1446h0M1534 1460h0M1527 1460h0M1554 1442h0M1542 1467h0M1586 1450h0M1572 1444h0M1608 1422h0M1609 1451h0M1686 1431h0M1600 1445h0M1516 1470h0M1568 1454h0M1524 1460h0M1595 1484h0M1625 1418h0M1635 1417h0M1590 1419h0M1650 1480h0M1651 1478h0M1543 1477h0M1690 1432h0M1590 1439h0M1552 1494h0M1560 1495h0M1588 1432h0M1568 1420h0M1587 1467h0M1670 1440h0M1640 1484h0M1403 1415h0M1402 1418h0M1425 1425h0M1422 1423h0M1413 1427h0M1425 1425h0M1416 1428h0M1437 1432h0M1429 1424h0M1451 1426h0M1454 1432h0M1459 1434h0M1453 1425h0M1484 1434h0M1486 1430h0M1504 1434h0M1505 1431h0M1507 1427h0M1497 1437h0M1517 1434h0M2280 1115h0M2257 1104h0M2255 1104h0M2314 1107h0M2313 1120h0M2253 1139h0M2292 1116h0M2250 1112h0M2240 1125h0M2272 1110h0M2272 1112h0M2273 1110h0M2296 1120h0M2244 1121h0M2316 1114h0M2312 1120h0M2251 1132h0M2250 1119h0M2311 1107h0M2298 1119h0M2245 1105h0M2237 1107h0M2295 1112h0M2289 1126h0M2286 1128h0M2304 1116h0M2266 1126h0M2297 1118h0M2279 1125h0M2270 1120h0M2225 1102h0M2240 1131h0M2225 1108h0M2255 1117h0M2300 1119h0M2236 1124h0M2241 1123h0M2243 1120h0M2269 1126h0M2254 1118h0M2256 1114h0M2322 1113h0M2293 1126h0M2285 1112h0M2256 1110h0M2268 1130h0M2300 1116h0M2314 1115h0M2308 1105h0M2262 1131h0M2244 1124h0M2287 1112h0M2282 1118h0M2297 1116h0M2299 1114h0M2258 1110h0M2274 1107h0M2148 1112h0M2151 1108h0M2150 1111h0M2163 1113h0M2156 1111h0M2148 1108h0M2207 1113h0M563 1401h0M573 1398h0M584 1395h0M560 1403h0M548 1412h0M575 1399h0M564 1406h0M573 1399h0M556 1412h0M551 1414h0M583 1393h0M574 1396h0M575 1398h0M542 1406h0M546 1405h0M568 1404h0M1742 619h0M1722 634h0M1743 640h0M1730 661h0M1725 613h0M1743 651h0M1708 666h0M1718 652h0M1716 589h0M1739 652h0M1727 625h0M1729 597h0M1710 637h0M1740 646h0M1720 630h0M1740 650h0M1721 629h0M1696 644h0M1695 636h0M1698 602h0M1637 626h0M1644 613h0M1630 622h0M1678 593h0M1630 640h0M1643 621h0M1611 594h0M1615 618h0M1304 851h0M1309 841h0M1332 863h0M1326 856h0M1331 864h0M1307 851h0M1339 875h0M1369 888h0M1344 881h0M1360 888h0M1348 876h0M1353 888h0M1461 968h0M1497 1008h0M1512 958h0M1504 980h0M1414 1006h0M1483 992h0M1409 999h0M1427 1003h0M1486 979h0M1417 969h0M1531 960h0M1427 988h0M1411 980h0M1443 966h0M1488 991h0M1421 987h0M1534 973h0M1421 973h0M1454 1010h0M1480 982h0M1520 962h0M1536 997h0M1529 960h0M1442 990h0M1423 1000h0M1498 976h0M1477 975h0M1477 970h0M2082 657h0M1990 669h0M2070 630h0M2135 649h0M1966 667h0M2052 642h0M2106 646h0M2142 647h0M2012 621h0M1966 673h0M1963 660h0M2156 683h0M2167 670h0M2203 685h0M2180 680h0M2182 678h0M2154 673h0M2211 684h0M2197 676h0M2154 674h0M2173 679h0M2170 673h0M2188 674h0M2159 673h0M2190 674h0M2192 684h0M2181 682h0M2183 694h0M2214 696h0M2191 696h0M2191 693h0" stroke="#000004"/>
<path d="M1089 448h0M1104 441h0M559 804h0M615 734h0M662 862h0M536 890h0M615 812h0M588 916h0M482 721h0M426 815h0M560 828h0M447 788h0M511 898h0M474 801h0M472 818h0M623 882h0M479 852h0M621 916h0M609 745h0M599 845h0M594 865h0M542 879h0M473 797h0M597 782h0M479 731h0M472 799h0M578 709h0M415 846h0M516 833h0M594 832h0M699 883h0M735 868h0M736 751h0M754 761h0M772 773h0M646 716h0M733 755h0M775 777h0M716 715h0M715 738h0M766 767h0M730 716h0M711 745h0M634 705h0M714 726h0M761 741h0M735 718h0M700 723h0M672 680h0M797 790h0M845 796h0M640 783h0M669 845h0M695 750h0M716 844h0M868 828h0M877 833h0M837 821h0M909 817h0M925 815h0M882 817h0M877 814h0M904 745h0M1444 589h0M1544 651h0M2007 600h0M2038 605h0M1848 749h0M1857 682h0M1869 696h0M1968 717h0M1977 670h0M2107 662h0M1420 966h0M883 893h0M920 917h0M933 925h0M994 923h0M1152 992h0M1148 1000h0M1155 974h0M1184 968h0M1037 953h0M1156 994h0M1049 976h0M1057 1009h0M839 1245h0M1708 1282h0M1625 1285h0M1674 1266h0M1650 1302h0M1640 1273h0M1723 1275h0M1482 964h0M2038 665h0" stroke="#1d1147"/>
<path d="M1289 346h0M1084 444h0M1089 421h0M582 880h0M577 923h0M713 884h0M582 859h0M570 848h0M476 741h0M521 807h0M673 892h0M420 855h0M558 920h0M647 864h0M634 848h0M635 838h0M567 837h0M447 806h0M427 831h0M638 914h0M404 814h0M596 788h0M601 892h0M559 839h0M551 783h0M571 780h0M538 792h0M632 865h0M513 756h0M446 869h0M568 915h0M693 893h0M773 774h0M666 691h0M785 777h0M710 709h0M693 674h0M704 722h0M738 755h0M680 686h0M722 746h0M739 729h0M669 714h0M655 847h0M659 830h0M653 853h0M894 827h0M864 828h0M841 724h0M1343 660h0M1695 651h0M1616 598h0M2212 621h0M1850 745h0M1370 890h0M1541 980h0M1327 1044h0M993 920h0M864 939h0M1033 953h0M1140 994h0M1053 991h0M1074 953h0M1144 970h0M1091 1005h0M1219 1288h0M1726 1277h0M1605 1289h0M1667 1273h0M1703 1294h0M1702 1364h0M1544 1478h0M2025 666h0" stroke="#36106b"/>
<path d="M637 849h0M462 784h0M441 708h0M482 776h0M443 874h0M585 816h0M648 888h0M463 800h0M572 903h0M692 893h0M579 917h0M658 889h0M686 881h0M735 876h0M730 736h0M705 721h0M755 726h0M756 750h0M782 758h0M763 771h0M670 698h0M699 678h0M776 748h0M737 724h0M685 710h0M627 712h0M780 766h0M716 833h0M693 850h0M792 791h0M902 831h0M1578 693h0M1602 671h0M1745 606h0M2068 593h0M1970 610h0M1882 680h0M1389 891h0M1590 960h0M1509 976h0M1564 994h0M1590 1012h0M1353 1037h0M990 927h0M649 960h0M1600 1274h0M1693 1277h0M1705 1295h0M1662 1287h0M1697 1311h0M1535 1299h0M1652 1368h0" stroke="#51127c"/>
<path d="M1194 451h0M1083 422h0M666 473h0M537 773h0M626 886h0M551 869h0M489 673h0M571 704h0M445 713h0M473 836h0M436 871h0M418 801h0M594 918h0M589 914h0M694 707h0M756 744h0M728 735h0M817 806h0M877 826h0M861 813h0M1504 735h0M1954 624h0M2004 610h0M1929 642h0M1494 985h0M1497 966h0M1566 981h0M1572 941h0M1543 976h0M1010 1010h0M1142 984h0M1148 962h0M1268 937h0M640 961h0M755 968h0M1646 1297h0" stroke="#6a1c81"/>
<path d="M473 830h0M550 737h0M511 851h0M609 910h0M626 909h0M609 910h0M687 885h0M713 712h0M745 736h0M1884 637h0M887 888h0M1018 977h0M1041 996h0M897 1304h0M1762 1253h0M1606 1361h0" stroke="#832681"/>
<path d="M585 892h0M566 719h0M735 869h0M660 892h0M735 862h0M653 719h0M809 795h0M889 814h0M1426 658h0M1442 971h0M1159 953h0M1725 1351h0M1416 986h0" stroke="#b73779"/>
<path d="M565 808h0M424 832h0M580 865h0M711 753h0M1717 674h0M899 914h0M1643 1302h0" stroke="#e65164"/>
<path d="M1176 262h0M1251 263h0M1276 282h0M1181 265h0M1238 252h0M1215 273h0M1180 261h0M1219 257h0M1173 293h0M1238 278h0M1241 252h0M1179 288h0M1246 264h0M1222 252h0M1158 262h0M1166 301h0M1261 269h0M1175 254h0M1208 266h0M1219 266h0M1142 298h0M1151 284h0M1259 266h0M1158 308h0M1192 254h0M1148 308h0M1159 294h0M1201 267h0M1150 306h0M1250 260h0M1166 287h0M1180 252h0M1200 251h0M1208 265h0M1156 274h0M1184 280h0M1234 260h0M1167 303h0M1229 262h0M1195 248h0M1240 254h0M1222 246h0M1185 256h0M1146 299h0M1227 245h0M1176 268h0M1160 273h0M1256 277h0M1173 272h0M1211 272h0M1143 305h0M1163 297h0M1235 258h0M1254 267h0M1140 293h0M1241 264h0M1249 254h0M1179 277h0M1281 277h0M1148 288h0M1251 268h0M1275 274h0M1262 300h0M1296 391h0M1293 343h0M1302 414h0M1322 399h0M1350 406h0M1285 355h0M1264 329h0M1281 327h0M1326 385h0M1313 361h0M1317 302h0M1302 314h0M1304 364h0M1356 361h0M1297 293h0M1322 329h0M1258 294h0M1302 414h0M1316 334h0M1353 392h0M1316 403h0M1304 287h0M1359 360h0M1321 353h0M1322 391h0M1279 314h0M1316 378h0M1272 312h0M1294 344h0M1285 340h0M1257 287h0M1289 388h0M1329 406h0M1307 352h0M1333 398h0M1375 346h0M1253 307h0M1319 375h0M1326 412h0M1292 405h0M1291 342h0M1274 296h0M1380 356h0M1370 343h0M1371 362h0M1367 337h0M1343 389h0M1290 411h0M1354 357h0M1288 407h0M1316 325h0M1362 359h0M1349 358h0M1310 387h0M1258 290h0M1329 366h0M1337 380h0M1306 411h0M1329 297h0M1355 323h0M1271 356h0M1300 376h0M1325 329h0M1264 336h0M1289 353h0M1331 342h0M1323 372h0M1345 387h0M1259 340h0M1293 375h0M1281 364h0M1286 377h0M1322 323h0M1329 405h0M1267 343h0M1302 336h0M1322 303h0M1252 287h0M1316 345h0M1367 359h0M1283 304h0M1265 349h0M1311 344h0M1366 352h0M1264 334h0M1334 373h0M1330 332h0M1345 369h0M1273 366h0M1279 297h0M1347 379h0M1314 345h0M1324 412h0M1334 411h0M1305 398h0M1304 339h0M1325 293h0M1344 390h0M1372 387h0M1259 309h0M1340 327h0M1337 343h0M1375 383h0M1287 283h0M1269 373h0M1341 379h0M1270 402h0M1280 338h0M1295 363h0M1350 352h0M1349 384h0M1325 383h0M1337 337h0M1277 333h0M1348 406h0M1347 357h0M1347 306h0M1257 292h0M1334 324h0M1331 300h0M1328 325h0M1297 415h0M1374 369h0M1300 390h0M1328 398h0M1203 326h0M1239 399h0M1227 354h0M1207 372h0M1222 321h0M1255 385h0M1249 324h0M1220 311h0M1175 309h0M1179 430h0M1219 432h0M1191 388h0M1171 312h0M1246 351h0M1211 382h0M1193 341h0M1262 401h0M1184 315h0M1182 385h0M1214 299h0M1175 311h0M1196 364h0M1186 347h0M1230 407h0M1258 404h0M1249 412h0M1259 403h0M1172 414h0M1253 352h0M1255 400h0M1217 334h0M1213 422h0M1228 354h0M1203 314h0M1212 427h0M1231 306h0M1251 364h0M1200 355h0M1223 292h0M1202 432h0M1220 416h0M1238 390h0M1193 337h0M1247 408h0M1166 344h0M1262 377h0M1215 432h0M1218 436h0M1225 416h0M1175 335h0M1241 397h0M1192 419h0M1172 354h0M1229 420h0M1184 413h0M1264 366h0M1258 374h0M1206 409h0M1235 309h0M1210 364h0M1221 431h0M1211 352h0M1263 392h0M1230 424h0M1200 392h0M1203 285h0M1251 387h0M1184 434h0M1179 297h0M1161 442h0M1234 458h0M1207 456h0M1179 462h0M1193 463h0M1156 458h0M1235 468h0M1144 448h0M1206 453h0M1196 454h0M1210 455h0M1214 456h0M1184 466h0M1165 464h0M1184 452h0M1177 467h0M1200 462h0M1144 449h0M1189 447h0M1156 452h0M1203 451h0M1094 433h0M1089 422h0M1077 413h0M1078 414h0M1072 430h0M1093 431h0M1084 445h0M1078 447h0M1097 437h0M1090 434h0M1095 444h0M1099 434h0M1160 438h0M1402 363h0M1341 416h0M1432 433h0M1444 445h0M1447 451h0M1453 461h0M1456 462h0M1456 468h0M1459 470h0M1974 342h0M1987 343h0M1982 335h0M1958 329h0M1996 336h0M1974 344h0M1970 333h0M2012 361h0M2014 337h0M2008 361h0M2009 342h0M1972 342h0M1988 342h0M1985 350h0M2012 361h0M1980 350h0M1987 351h0M1984 350h0M1980 333h0M1983 341h0M1996 357h0M1963 367h0M1970 362h0M1998 327h0M1941 366h0M1938 367h0M665 476h0M664 474h0M679 480h0M814 499h0M783 568h0M781 458h0M780 460h0M776 462h0M780 456h0M772 460h0M824 491h0M827 492h0M828 491h0M825 489h0M797 550h0M797 541h0M801 549h0M803 542h0M503 905h0M403 795h0M533 866h0M469 755h0M558 788h0M607 810h0M501 876h0M625 873h0M551 819h0M425 851h0M449 700h0M465 859h0M574 714h0M474 706h0M554 891h0M616 847h0M594 915h0M545 781h0M715 882h0M429 836h0M433 789h0M462 734h0M687 883h0M585 879h0M420 803h0M478 868h0M595 779h0M447 790h0M529 777h0M431 771h0M409 743h0M573 834h0M452 791h0M572 873h0M493 853h0M497 892h0M578 859h0M545 839h0M544 890h0M485 779h0M538 802h0M460 715h0M590 808h0M420 849h0M491 707h0M452 785h0M623 860h0M640 882h0M505 898h0M543 755h0M581 909h0M596 817h0M724 877h0M556 888h0M654 884h0M531 744h0M546 831h0M581 775h0M581 815h0M486 728h0M452 727h0M553 724h0M530 801h0M495 822h0M566 736h0M493 817h0M534 899h0M591 748h0M486 769h0M610 865h0M500 903h0M595 903h0M415 758h0M428 859h0M451 855h0M654 873h0M408 784h0M408 793h0M613 835h0M435 699h0M525 819h0M495 862h0M614 739h0M599 859h0M413 838h0M624 804h0M501 901h0M529 909h0M579 876h0M448 822h0M603 766h0M487 825h0M435 868h0M527 793h0M597 922h0M609 901h0M579 698h0M423 770h0M410 804h0M487 885h0M665 902h0M579 706h0M557 767h0M604 703h0M436 806h0M524 833h0M435 740h0M454 861h0M529 712h0M620 808h0M737 866h0M503 825h0M467 747h0M482 825h0M558 758h0M475 682h0M555 717h0M515 845h0M514 692h0M627 890h0M593 697h0M485 778h0M612 767h0M561 891h0M597 707h0M483 743h0M417 783h0M485 685h0M573 850h0M602 867h0M619 863h0M483 676h0M549 801h0M705 863h0M584 702h0M562 780h0M401 828h0M514 905h0M480 808h0M556 826h0M599 802h0M457 751h0M512 749h0M473 866h0M545 746h0M614 718h0M577 830h0M604 808h0M601 774h0M522 881h0M415 752h0M528 737h0M559 775h0M456 871h0M422 808h0M658 878h0M575 836h0M466 895h0M570 870h0M594 709h0M459 791h0M462 732h0M488 684h0M460 686h0M578 895h0M526 800h0M683 879h0M420 763h0M533 796h0M597 753h0M483 855h0M448 791h0M581 888h0M639 878h0M607 788h0M536 882h0M674 865h0M610 813h0M550 692h0M546 892h0M582 792h0M435 779h0M493 902h0M502 757h0M547 920h0M489 708h0M565 840h0M606 858h0M440 823h0M563 808h0M466 708h0M573 767h0M480 877h0M558 732h0M477 823h0M571 914h0M536 741h0M463 701h0M438 760h0M486 821h0M594 904h0M578 919h0M472 855h0M626 812h0M571 733h0M678 868h0M568 695h0M448 800h0M603 728h0M709 864h0M538 764h0M640 859h0M566 726h0M434 707h0M529 794h0M600 709h0M484 869h0M507 748h0M603 806h0M501 712h0M585 744h0M637 849h0M483 695h0M566 923h0M574 911h0M631 900h0M620 903h0M617 903h0M616 902h0M657 900h0M663 899h0M675 885h0M710 873h0M724 870h0M713 877h0M753 878h0M661 719h0M643 702h0M753 758h0M813 792h0M818 785h0M670 697h0M772 775h0M759 742h0M693 713h0M723 723h0M643 716h0M803 783h0M694 669h0M829 801h0M789 765h0M680 674h0M769 744h0M660 699h0M697 729h0M765 740h0M793 777h0M674 701h0M714 720h0M719 752h0M660 697h0M816 790h0M734 741h0M629 709h0M790 770h0M656 727h0M668 730h0M748 749h0M739 747h0M677 733h0M731 730h0M682 721h0M808 788h0M729 793h0M703 859h0M756 854h0M692 749h0M649 752h0M652 824h0M676 861h0M723 841h0M730 768h0M726 822h0M681 756h0M630 784h0M784 791h0M685 846h0M652 735h0M702 861h0M627 797h0M654 787h0M698 747h0M710 750h0M729 766h0M695 862h0M812 811h0M681 747h0M789 810h0M717 835h0M710 797h0M721 845h0M659 822h0M742 797h0M620 777h0M880 839h0M849 824h0M892 833h0M923 817h0M852 823h0M914 829h0M871 832h0M891 835h0M869 822h0M858 839h0M859 835h0M912 829h0M885 811h0M848 818h0M884 810h0M880 809h0M845 819h0M858 823h0M882 810h0M831 834h0M863 838h0M867 816h0M848 823h0M925 819h0M871 831h0M898 808h0M876 837h0M840 835h0M863 833h0M923 818h0M831 822h0M896 734h0M890 741h0M903 739h0M883 728h0M897 745h0M902 747h0M751 900h0M877 860h0M886 867h0M880 872h0M885 876h0M1398 538h0M1315 614h0M1475 634h0M1319 643h0M1426 587h0M1345 627h0M1360 671h0M1476 585h0M1482 648h0M1468 618h0M1318 607h0M1355 558h0M1536 674h0M1388 632h0M1273 608h0M1485 648h0M1302 603h0M1423 642h0M1290 591h0M1361 663h0M1437 623h0M1394 554h0M1496 666h0M1341 624h0M1439 616h0M1318 569h0M1298 571h0M1371 645h0M1567 647h0M1379 653h0M1450 572h0M1413 575h0M1372 642h0M1306 564h0M1400 521h0M1419 685h0M1370 666h0M1417 551h0M1496 680h0M1331 628h0M1322 645h0M1422 591h0M1505 592h0M1411 614h0M1509 645h0M1399 558h0M1330 635h0M1358 678h0M1457 674h0M1307 561h0M1324 634h0M1431 566h0M1391 657h0M1335 664h0M1321 560h0M1432 620h0M1413 681h0M1327 614h0M1314 652h0M1333 589h0M1361 655h0M1469 657h0M1543 607h0M1385 564h0M1321 580h0M1520 669h0M1317 599h0M1434 580h0M1522 640h0M1404 593h0M1398 624h0M1347 597h0M1531 609h0M1381 637h0M1523 606h0M1458 650h0M1354 566h0M1363 645h0M1301 635h0M1384 545h0M1405 637h0M1383 563h0M1433 673h0M1320 568h0M1421 592h0M1413 669h0M1453 580h0M1351 540h0M1351 651h0M1310 612h0M1515 667h0M1496 580h0M1406 669h0M1569 660h0M1414 543h0M1422 564h0M1439 586h0M1466 585h0M1357 648h0M1393 592h0M1421 624h0M1313 637h0M1305 585h0M1540 660h0M1304 624h0M1450 568h0M1554 653h0M1363 683h0M1416 653h0M1392 625h0M1550 645h0M1330 574h0M1488 631h0M1469 581h0M1471 608h0M1351 588h0M1285 616h0M1455 658h0M1444 605h0M1407 649h0M1380 638h0M1529 629h0M1323 602h0M1306 644h0M1498 632h0M1379 576h0M1399 679h0M1438 598h0M1478 582h0M1413 571h0M1405 538h0M1406 540h0M1415 639h0M1489 653h0M1396 618h0M1441 630h0M1469 624h0M1506 664h0M1389 639h0M1489 603h0M1492 603h0M1460 680h0M1425 651h0M1563 665h0M1314 628h0M1420 590h0M1463 660h0M1307 567h0M1531 643h0M1281 598h0M1303 585h0M1284 614h0M1513 640h0M1508 617h0M1479 599h0M1339 660h0M1448 611h0M1478 663h0M1390 661h0M1386 639h0M1412 612h0M1417 559h0M1367 642h0M1341 647h0M1406 660h0M1453 573h0M1414 636h0M1324 570h0M1431 580h0M1393 672h0M1416 626h0M1359 578h0M1327 653h0M1482 644h0M1376 570h0M1399 598h0M1475 573h0M1419 599h0M1502 595h0M1292 638h0M1357 629h0M1435 659h0M1379 606h0M1366 547h0M1513 634h0M1465 620h0M1454 601h0M1366 586h0M1342 562h0M1286 586h0M1321 666h0M1474 576h0M1372 637h0M1314 618h0M1318 566h0M1445 554h0M1403 607h0M1339 584h0M1429 648h0M1484 611h0M1318 581h0M1299 583h0M1319 660h0M1480 576h0M1388 574h0M1550 654h0M1312 595h0M1364 559h0M1406 543h0M1343 600h0M1538 673h0M1376 551h0M1310 585h0M1388 611h0M1409 666h0M1490 616h0M1310 561h0M1342 623h0M1324 593h0M1319 629h0M1352 541h0M1291 615h0M1556 639h0M1483 578h0M1521 604h0M1431 665h0M1425 648h0M1331 601h0M1329 650h0M1438 658h0M1533 625h0M1318 588h0M1380 600h0M1528 592h0M1383 653h0M1396 598h0M1519 640h0M1417 591h0M1477 615h0M1441 670h0M1289 579h0M1335 553h0M1376 546h0M1383 567h0M1379 560h0M1529 608h0M1485 683h0M1444 535h0M1425 630h0M1410 541h0M1388 678h0M1423 684h0M1313 579h0M1350 647h0M1413 524h0M1521 665h0M1515 598h0M1393 599h0M1406 615h0M1449 639h0M1321 578h0M1511 697h0M1554 717h0M1594 735h0M1460 701h0M1522 697h0M1542 695h0M1444 719h0M1566 722h0M1414 692h0M1558 737h0M1538 694h0M1531 705h0M1491 715h0M1571 692h0M1570 701h0M1598 672h0M1444 698h0M1544 736h0M1601 674h0M1547 724h0M1491 687h0M1594 730h0M1464 689h0M1500 693h0M1515 708h0M1480 713h0M1453 720h0M1493 689h0M1437 717h0M1516 719h0M1592 668h0M1481 727h0M1573 711h0M1556 683h0M1490 693h0M1593 744h0M1447 720h0M1547 750h0M1599 673h0M1582 740h0M1527 737h0M1471 713h0M1531 687h0M1584 665h0M1565 740h0M1469 698h0M1481 694h0M1546 716h0M1497 695h0M1475 700h0M1564 699h0M1445 705h0M1418 698h0M1466 725h0M1580 703h0M1504 721h0M1462 725h0M1586 707h0M1501 711h0M1522 743h0M1549 716h0M1585 744h0M1455 713h0M1489 685h0M1595 733h0M1520 718h0M1600 674h0M1596 718h0M1567 724h0M1561 673h0M1583 666h0M1581 670h0M1431 706h0M1574 744h0M1543 686h0M1462 699h0M1576 676h0M1430 696h0M1586 663h0M1542 694h0M1516 731h0M1574 678h0M1584 677h0M1487 710h0M1461 725h0M1460 686h0M1445 689h0M1477 695h0M1578 664h0M1567 717h0M1595 727h0M1602 717h0M1560 710h0M1428 703h0M1510 699h0M1644 685h0M1691 653h0M1663 693h0M1675 688h0M1663 712h0M1614 656h0M1607 698h0M1611 674h0M1654 649h0M1632 709h0M1631 688h0M1640 686h0M1678 701h0M1631 678h0M1649 691h0M1642 691h0M1645 682h0M1651 712h0M1628 696h0M1629 691h0M1691 660h0M1654 680h0M1639 648h0M1622 691h0M1619 683h0M1609 709h0M1611 657h0M1674 672h0M1690 705h0M1646 644h0M1669 684h0M1668 648h0M1674 678h0M1659 655h0M1636 656h0M1626 723h0M1631 663h0M1629 721h0M1690 713h0M1566 587h0M1488 547h0M1554 560h0M1516 554h0M1531 586h0M1532 569h0M1593 583h0M1635 601h0M1588 606h0M1736 663h0M1723 604h0M1731 707h0M1725 621h0M1737 687h0M1734 620h0M2021 607h0M2008 602h0M2002 601h0M1997 609h0M2003 597h0M1995 604h0M2006 604h0M2047 600h0M2044 597h0M2056 599h0M2086 589h0M2062 597h0M2071 594h0M2066 590h0M2063 599h0M2061 596h0M2070 592h0M2075 593h0M2095 588h0M2106 587h0M2118 592h0M2114 590h0M2096 595h0M2118 587h0M2088 595h0M2114 590h0M2148 587h0M2148 587h0M2150 594h0M2152 589h0M2123 597h0M2134 596h0M2152 589h0M2167 594h0M2169 600h0M2203 629h0M2195 601h0M2204 630h0M2205 621h0M2178 614h0M2172 599h0M2196 602h0M2204 612h0M2175 609h0M2189 623h0M2189 617h0M2217 624h0M2184 600h0M2182 614h0M2165 601h0M2182 606h0M2194 608h0M2202 615h0M2198 615h0M2177 608h0M2191 617h0M2173 605h0M2184 604h0M2201 605h0M2173 612h0M2172 606h0M2215 629h0M2212 608h0M2199 606h0M2219 610h0M2199 613h0M1922 731h0M1929 735h0M1924 734h0M1933 727h0M1944 726h0M1940 726h0M1913 653h0M1776 601h0M1801 645h0M1742 630h0M2203 622h0M1793 636h0M1925 653h0M1992 620h0M2176 613h0M1803 647h0M1751 601h0M1741 626h0M1884 616h0M1943 634h0M1856 645h0M2201 634h0M1841 637h0M2100 591h0M1929 626h0M1944 619h0M1749 632h0M1852 646h0M2145 609h0M1748 639h0M1922 622h0M2197 614h0M1851 662h0M2012 604h0M2210 624h0M1830 623h0M2015 610h0M2180 604h0M1844 622h0M1832 646h0M2196 607h0M2108 602h0M1846 644h0M1762 632h0M1797 631h0M1794 616h0M2117 592h0M2095 594h0M1796 602h0M2079 597h0M2189 603h0M1765 634h0M1751 605h0M1761 631h0M2100 608h0M2082 597h0M1789 640h0M1787 632h0M1924 619h0M1858 635h0M1909 648h0M1890 635h0M1956 613h0M1831 658h0M1968 611h0M1791 636h0M1920 633h0M1827 640h0M1768 602h0M1796 628h0M1768 628h0M1912 654h0M1741 611h0M1979 627h0M1958 608h0M2211 604h0M1956 617h0M1825 650h0M2095 594h0M1810 642h0M2191 615h0M1750 635h0M1801 610h0M1878 637h0M2063 613h0M1745 643h0M1761 641h0M1926 626h0M1853 643h0M2103 599h0M1749 610h0M1845 630h0M1788 623h0M2130 608h0M1766 612h0M1962 608h0M2044 602h0M1972 607h0M2014 618h0M1816 619h0M1831 635h0M2202 619h0M1749 641h0M1826 660h0M1941 615h0M1887 627h0M1787 622h0M1964 620h0M1838 625h0M2130 608h0M1825 636h0M1772 627h0M1903 656h0M2091 599h0M2082 604h0M1966 609h0M1876 648h0M1858 656h0M2040 597h0M2186 621h0M2145 601h0M1803 648h0M1946 632h0M2187 623h0M1930 629h0M1790 605h0M1800 632h0M1833 647h0M1825 641h0M1847 640h0M1779 614h0M1855 610h0M1769 606h0M2121 597h0M1797 632h0M2185 604h0M1958 615h0M1845 653h0M2070 611h0M1764 598h0M2013 610h0M1786 634h0M1830 754h0M1826 752h0M1813 761h0M1871 738h0M1838 746h0M1826 756h0M1837 755h0M1826 755h0M1896 721h0M1882 720h0M1863 720h0M1869 673h0M1900 687h0M1878 690h0M1852 696h0M1949 682h0M1912 704h0M1889 714h0M1925 695h0M1888 667h0M1897 700h0M1924 681h0M1892 675h0M1869 683h0M1912 706h0M1890 700h0M1883 707h0M1889 715h0M1858 697h0M1933 693h0M1916 694h0M1883 672h0M1919 700h0M1860 691h0M1925 679h0M1862 687h0M1876 696h0M1915 719h0M1910 721h0M1916 708h0M1944 688h0M1915 700h0M1955 730h0M1954 733h0M1971 722h0M1990 706h0M1942 735h0M1927 732h0M1979 715h0M1943 728h0M1978 717h0M1938 728h0M1999 703h0M1928 732h0M1989 705h0M1954 721h0M2031 684h0M1976 714h0M2177 644h0M1960 687h0M1998 684h0M2062 659h0M2043 660h0M2171 646h0M2171 633h0M2090 660h0M2032 681h0M2055 676h0M2051 675h0M2069 680h0M2068 676h0M2092 673h0M2100 668h0M2163 674h0M2190 679h0M2174 685h0M2216 696h0M2214 697h0M2211 695h0M2175 674h0M1775 711h0M1793 710h0M1804 711h0M1802 708h0M1832 710h0M1768 685h0M1280 832h0M1298 833h0M1304 841h0M1308 849h0M1318 850h0M1323 860h0M1333 866h0M1323 855h0M1339 876h0M1341 871h0M1347 880h0M1347 875h0M1342 877h0M1350 881h0M1366 890h0M1364 885h0M1353 881h0M1380 893h0M1375 897h0M1384 899h0M1402 900h0M1407 899h0M1404 895h0M1404 899h0M1332 831h0M1380 871h0M1393 859h0M1409 859h0M1421 874h0M1453 930h0M1459 939h0M1476 943h0M1582 950h0M1554 1014h0M1631 985h0M1543 990h0M1585 973h0M1579 955h0M1595 940h0M1563 939h0M1591 974h0M1638 971h0M1544 976h0M1469 961h0M1491 995h0M1542 1008h0M1566 986h0M1422 990h0M1466 976h0M1526 997h0M1600 937h0M1453 1004h0M1515 987h0M1588 1007h0M1584 946h0M1576 952h0M1464 1002h0M1566 980h0M1505 960h0M1456 1007h0M1526 996h0M1522 971h0M1497 968h0M1535 982h0M1534 978h0M1549 981h0M1571 988h0M1623 952h0M1543 998h0M1609 1008h0M1590 989h0M1517 970h0M1578 984h0M1608 998h0M1574 965h0M1569 1018h0M1527 995h0M1445 973h0M1533 980h0M1643 968h0M1556 979h0M1463 961h0M1587 940h0M1483 986h0M1544 966h0M1537 986h0M1503 1009h0M1454 982h0M1584 993h0M1514 1012h0M1462 989h0M1499 985h0M1506 956h0M1608 980h0M1626 956h0M1572 938h0M1442 1011h0M1411 982h0M1556 989h0M1464 973h0M1487 1000h0M1426 997h0M1462 968h0M1496 984h0M1588 1013h0M1573 980h0M1426 961h0M1601 948h0M1566 1011h0M1571 940h0M1428 966h0M1610 941h0M1422 999h0M1305 1058h0M1307 1053h0M1301 1051h0M1304 1056h0M1300 1050h0M1298 1059h0M1299 1058h0M1322 1045h0M1329 1040h0M1314 1045h0M1320 1039h0M1327 1044h0M1335 1038h0M1338 1036h0M1342 1032h0M1338 1043h0M1335 1041h0M1342 1037h0M1367 1033h0M1360 1036h0M1368 1023h0M1367 1033h0M1355 1028h0M1366 1029h0M1294 1033h0M1307 1025h0M1377 1002h0M1556 1017h0M1275 938h0M893 904h0M899 917h0M920 918h0M907 917h0M915 921h0M940 917h0M951 916h0M932 915h0M947 925h0M983 925h0M985 920h0M981 929h0M959 924h0M979 928h0M1005 928h0M1009 924h0M988 919h0M993 930h0M875 947h0M882 937h0M932 934h0M954 945h0M1023 940h0M1151 960h0M1105 960h0M1106 984h0M1012 1014h0M1160 951h0M1142 999h0M1128 959h0M1068 957h0M1140 962h0M1099 1004h0M1097 960h0M1128 968h0M1129 978h0M1110 1003h0M1179 954h0M1133 945h0M1087 1012h0M1012 1014h0M1127 959h0M1069 968h0M1059 957h0M1167 963h0M1020 983h0M1062 974h0M1016 1019h0M1048 989h0M1095 989h0M1091 974h0M1051 952h0M1054 1019h0M1067 961h0M1015 986h0M1102 983h0M1041 994h0M1069 954h0M1123 990h0M1023 1023h0M1105 973h0M1035 1020h0M1030 992h0M1092 984h0M1138 986h0M1138 954h0M1016 1012h0M1106 982h0M1014 969h0M1026 951h0M1154 960h0M1005 1000h0M1173 956h0M1174 971h0M1020 963h0M1140 956h0M1100 996h0M1058 1015h0M1028 1002h0M1156 954h0M1109 969h0M1021 960h0M1006 1021h0M955 1013h0M937 1009h0M978 1019h0M1306 945h0M1220 958h0M1228 948h0M1175 1008h0M1204 1003h0M1253 941h0M1246 938h0M1273 944h0M668 986h0M687 981h0M713 1018h0M716 992h0M703 1037h0M707 1041h0M705 967h0M696 993h0M699 1024h0M701 1002h0M717 1033h0M730 1037h0M702 979h0M718 1028h0M722 1047h0M722 1050h0M724 1039h0M738 1037h0M725 1050h0M741 1031h0M792 1007h0M753 1032h0M712 1047h0M715 1051h0M742 1042h0M724 1037h0M767 1011h0M750 1032h0M826 985h0M827 975h0M792 999h0M807 1002h0M717 1049h0M827 975h0M763 1029h0M838 971h0M789 1008h0M810 990h0M719 1046h0M809 982h0M798 996h0M735 1040h0M757 1019h0M796 1012h0M785 1020h0M634 959h0M665 966h0M635 928h0M668 925h0M680 944h0M699 930h0M758 921h0M770 918h0M779 917h0M787 911h0M782 932h0M762 938h0M790 955h0M827 948h0M842 961h0M805 965h0M765 964h0M741 965h0M750 978h0M756 1018h0M828 1164h0M824 1167h0M833 1164h0M821 1183h0M818 1175h0M825 1177h0M822 1181h0M879 1307h0M941 1321h0M1014 1368h0M965 1363h0M875 1287h0M1021 1361h0M987 1358h0M852 1264h0M864 1269h0M983 1366h0M933 1327h0M941 1326h0M872 1308h0M975 1356h0M867 1279h0M814 1189h0M945 1332h0M814 1224h0M967 1358h0M1012 1366h0M844 1274h0M960 1347h0M909 1321h0M826 1227h0M838 1242h0M811 1217h0M826 1242h0M875 1281h0M858 1296h0M830 1250h0M815 1221h0M948 1342h0M838 1262h0M988 1362h0M810 1231h0M955 1343h0M849 1270h0M840 1282h0M798 1214h0M846 1278h0M979 1367h0M1020 1363h0M940 1336h0M937 1333h0M956 1357h0M1028 1360h0M1011 1364h0M1006 1355h0M869 1291h0M1013 1353h0M1014 1369h0M822 1240h0M837 1273h0M809 1225h0M873 1306h0M952 1345h0M819 1221h0M1025 1370h0M907 1323h0M884 1304h0M893 1319h0M849 1290h0M923 1311h0M871 1278h0M873 1302h0M812 1189h0M885 1304h0M976 1354h0M970 1361h0M951 1341h0M868 1281h0M897 1301h0M916 1307h0M834 1258h0M828 1254h0M844 1245h0M849 1273h0M910 1310h0M956 1339h0M920 1328h0M836 1263h0M857 1269h0M902 1300h0M985 1367h0M936 1320h0M844 1244h0M949 1329h0M1015 1358h0M1006 1354h0M827 1253h0M866 1281h0M980 1349h0M981 1252h0M990 1263h0M988 1338h0M994 1299h0M952 1268h0M1024 1279h0M959 1318h0M1004 1319h0M1032 1247h0M1010 1331h0M988 1269h0M1021 1271h0M1016 1224h0M996 1303h0M967 1284h0M1000 1277h0M1015 1259h0M963 1280h0M1001 1333h0M1030 1287h0M941 1317h0M1009 1283h0M973 1290h0M970 1303h0M972 1282h0M998 1254h0M1017 1329h0M996 1268h0M977 1254h0M1012 1317h0M1019 1284h0M1011 1292h0M964 1281h0M1021 1321h0M954 1320h0M1029 1274h0M1027 1231h0M999 1334h0M1037 1254h0M1020 1270h0M1025 1260h0M1031 1242h0M1005 1260h0M1003 1243h0M1029 1237h0M1005 1241h0M1018 1264h0M1029 1283h0M1017 1244h0M1034 1260h0M1018 1241h0M1009 1233h0M1012 1244h0M1035 1277h0M1022 1283h0M1031 1262h0M1022 1261h0M1021 1223h0M1006 1253h0M1032 1248h0M1025 1268h0M1009 1259h0M1028 1249h0M1007 1262h0M1024 1282h0M1038 1258h0M1017 1239h0M891 1216h0M883 1271h0M890 1273h0M904 1283h0M927 1271h0M954 1262h0M1198 1274h0M1151 1291h0M1218 1267h0M1228 1284h0M1234 1263h0M1191 1275h0M1141 1293h0M1224 1279h0M1248 1251h0M1166 1283h0M1273 1271h0M1274 1261h0M1204 1271h0M1206 1278h0M1278 1257h0M1200 1289h0M1226 1277h0M1215 1279h0M1189 1278h0M1200 1275h0M1230 1278h0M1232 1258h0M1141 1293h0M1162 1295h0M1251 1255h0M1211 1286h0M1277 1257h0M1211 1285h0M1185 1293h0M1270 1273h0M1190 1290h0M1276 1256h0M1241 1281h0M1198 1274h0M1232 1275h0M1155 1288h0M1241 1284h0M1221 1281h0M1261 1265h0M1238 1288h0M1227 1267h0M1246 1278h0M1241 1253h0M1280 1263h0M1153 1290h0M1250 1280h0M1183 1285h0M1204 1282h0M1278 1261h0M1142 1252h0M1153 1255h0M1169 1266h0M1450 1202h0M1447 1199h0M1451 1201h0M1467 1193h0M1486 1193h0M1473 1194h0M1521 1168h0M1516 1168h0M1522 1174h0M1523 1171h0M1519 1207h0M1568 1212h0M1582 1244h0M1601 1284h0M1599 1329h0M1554 1373h0M1571 1314h0M1748 1271h0M1725 1286h0M1674 1266h0M1625 1290h0M1696 1248h0M1694 1250h0M1706 1278h0M1629 1306h0M1734 1256h0M1724 1267h0M1707 1297h0M1658 1255h0M1687 1311h0M1750 1273h0M1669 1261h0M1674 1298h0M1728 1260h0M1650 1293h0M1688 1306h0M1684 1300h0M1680 1314h0M1620 1288h0M1738 1266h0M1682 1254h0M1599 1273h0M1755 1256h0M1616 1294h0M1641 1298h0M1615 1301h0M1730 1285h0M1628 1262h0M1732 1254h0M1631 1268h0M1620 1277h0M1686 1270h0M1665 1250h0M1700 1277h0M1683 1269h0M1693 1300h0M1690 1260h0M1657 1286h0M1714 1265h0M1692 1282h0M1690 1274h0M1635 1286h0M1701 1292h0M1612 1273h0M1670 1284h0M1705 1254h0M1694 1273h0M1720 1281h0M1662 1256h0M1708 1283h0M1775 1259h0M1615 1267h0M1666 1268h0M1497 1297h0M1519 1305h0M1512 1301h0M1530 1304h0M1546 1307h0M1534 1300h0M1532 1305h0M1556 1305h0M1556 1311h0M1564 1314h0M1559 1318h0M1550 1321h0M1609 1372h0M1598 1329h0M1668 1371h0M1664 1374h0M1704 1386h0M1640 1387h0M1669 1370h0M1597 1329h0M1589 1372h0M1662 1358h0M1648 1391h0M1601 1369h0M1700 1365h0M1597 1402h0M1611 1348h0M1629 1359h0M1614 1383h0M1697 1360h0M1662 1406h0M1660 1377h0M1662 1405h0M1647 1353h0M1619 1326h0M1693 1330h0M1679 1350h0M1709 1352h0M1703 1354h0M1710 1358h0M1727 1349h0M1716 1413h0M1714 1423h0M1727 1417h0M1558 1476h0M1674 1451h0M1530 1475h0M1597 1498h0M1552 1466h0M1554 1481h0M1664 1455h0M1601 1441h0M1696 1471h0M1583 1470h0M1552 1427h0M1591 1440h0M1594 1415h0M1574 1467h0M1623 1472h0M1607 1439h0M1543 1422h0M1569 1481h0M1637 1461h0M1569 1494h0M1607 1449h0M1582 1431h0M1648 1447h0M1677 1465h0M1605 1466h0M1544 1440h0M1581 1485h0M1525 1443h0M1539 1471h0M1544 1473h0M1595 1493h0M1589 1460h0M1625 1426h0M1644 1466h0M1583 1454h0M1663 1455h0M1586 1455h0M1612 1477h0M1637 1418h0M1538 1465h0M1547 1476h0M1631 1447h0M1520 1457h0M1571 1421h0M1570 1453h0M1643 1417h0M1616 1447h0M1655 1457h0M1610 1454h0M1595 1461h0M1543 1422h0M1577 1489h0M1531 1478h0M1567 1479h0M1623 1428h0M1671 1429h0M1636 1487h0M1609 1477h0M1628 1479h0M1660 1453h0M1560 1455h0M1598 1487h0M1586 1433h0M1571 1431h0M1594 1448h0M1685 1437h0M1642 1475h0M1616 1461h0M1624 1466h0M1595 1471h0M1583 1431h0M1618 1418h0M1582 1449h0M1614 1457h0M1552 1422h0M1610 1421h0M1557 1483h0M1669 1480h0M1680 1432h0M1664 1471h0M1690 1450h0M1584 1442h0M1551 1441h0M1558 1489h0M1668 1453h0M1555 1420h0M1527 1483h0M1609 1474h0M1652 1479h0M1546 1440h0M1706 1431h0M1692 1431h0M1559 1424h0M1574 1419h0M1603 1454h0M1592 1432h0M1539 1465h0M1602 1489h0M1530 1472h0M1557 1436h0M1594 1414h0M1576 1473h0M1548 1470h0M1592 1420h0M1609 1428h0M1604 1446h0M1572 1467h0M1691 1468h0M1639 1450h0M1552 1477h0M1637 1453h0M1656 1481h0M1532 1452h0M1547 1437h0M1533 1488h0M1521 1469h0M1641 1474h0M1565 1442h0M1626 1452h0M1618 1423h0M1559 1482h0M1687 1469h0M1530 1450h0M1407 1420h0M1413 1421h0M1410 1423h0M1446 1426h0M1432 1427h0M1443 1430h0M1444 1433h0M1466 1428h0M1465 1428h0M1456 1431h0M1467 1424h0M1488 1437h0M1478 1434h0M1475 1427h0M1491 1436h0M1481 1427h0M1491 1434h0M1507 1435h0M1515 1427h0M1517 1429h0M1510 1430h0M2251 1113h0M2296 1112h0M2273 1124h0M2248 1139h0M2254 1138h0M2253 1113h0M2328 1119h0M2301 1125h0M2263 1107h0M2307 1113h0M2242 1111h0M2242 1115h0M2283 1127h0M2302 1126h0M2256 1106h0M2280 1114h0M2250 1111h0M2287 1115h0M2290 1109h0M2235 1121h0M2242 1136h0M2279 1116h0M2250 1103h0M2284 1127h0M2248 1125h0M2254 1112h0M2240 1136h0M2289 1116h0M2305 1122h0M2289 1109h0M2328 1114h0M2255 1097h0M2245 1106h0M2254 1101h0M2291 1120h0M2302 1111h0M2280 1115h0M2240 1103h0M2259 1139h0M2250 1131h0M2224 1108h0M2249 1103h0M2263 1103h0M2280 1120h0M2304 1112h0M2299 1109h0M2264 1121h0M2241 1109h0M2241 1118h0M2294 1125h0M2235 1125h0M2247 1133h0M2257 1098h0M2229 1114h0M2246 1106h0M2146 1112h0M2151 1110h0M2142 1111h0M2160 1110h0M547 1412h0M547 1402h0M554 1403h0M583 1396h0M562 1403h0M574 1397h0M551 1401h0M545 1409h0M550 1411h0M577 1395h0M545 1411h0M556 1401h0M552 1409h0M584 1398h0M584 1394h0M552 1405h0M576 1397h0M575 1398h0M564 1398h0M555 1401h0M549 1409h0M541 1409h0M569 1395h0M553 1412h0M1711 609h0M1700 622h0M1705 622h0M1743 627h0M1733 642h0M1740 615h0M1707 659h0M1695 659h0M1733 627h0M1696 667h0M1727 636h0M1714 604h0M1719 605h0M1700 596h0M1714 596h0M1729 605h0M1731 663h0M1697 637h0M1706 594h0M1716 621h0M1698 603h0M1720 665h0M1716 634h0M1733 646h0M1735 606h0M1685 596h0M1645 633h0M1611 617h0M1643 620h0M1666 638h0M1626 618h0M1622 607h0M1659 613h0M1647 595h0M1661 625h0M1656 591h0M1334 866h0M1308 853h0M1328 855h0M1324 861h0M1341 867h0M1361 886h0M1346 881h0M1362 887h0M1358 879h0M1481 996h0M1473 961h0M1392 1005h0M1421 978h0M1477 1008h0M1531 982h0M1481 960h0M1453 987h0M1483 976h0M1538 988h0M1388 1004h0M1397 999h0M1540 1001h0M1537 956h0M1497 996h0M1447 978h0M1519 966h0M1396 999h0M1476 1003h0M1388 990h0M1487 961h0M1438 984h0M1394 1002h0M1453 969h0M1444 987h0M1464 996h0M1480 1004h0M1497 990h0M1449 995h0M2011 647h0M2068 636h0M2035 628h0M1949 657h0M2061 667h0M1966 626h0M2063 637h0M2020 646h0M2023 644h0M2189 682h0M2214 697h0M2186 692h0M2201 686h0M2171 688h0M2178 693h0M2216 698h0M2180 680h0M2175 675h0M2184 683h0M2172 693h0M2193 687h0M2159 683h0" stroke="#000004"/>
<path d="M1312 302h0M1303 356h0M1212 344h0M1215 297h0M1079 439h0M603 865h0M480 805h0M512 688h0M544 862h0M486 717h0M478 819h0M444 832h0M603 748h0M588 886h0M503 834h0M504 894h0M656 869h0M427 856h0M592 856h0M487 873h0M704 871h0M651 882h0M506 820h0M532 784h0M543 811h0M405 826h0M530 832h0M446 869h0M431 867h0M536 864h0M792 784h0M677 678h0M676 684h0M718 736h0M766 774h0M764 742h0M682 720h0M763 738h0M718 725h0M769 767h0M699 725h0M746 733h0M745 761h0M821 788h0M714 724h0M770 737h0M755 746h0M635 721h0M888 812h0M866 835h0M840 722h0M875 723h0M889 737h0M885 864h0M1475 650h0M1661 693h0M2160 599h0M2120 602h0M1854 747h0M1963 682h0M2049 667h0M1337 867h0M1441 990h0M1391 994h0M993 922h0M1041 984h0M1053 1001h0M1131 957h0M1224 1021h0M731 1033h0M828 1169h0M1038 1256h0M1267 1264h0M1658 1311h0M1725 1253h0M1775 1259h0M1431 1423h0M2297 1117h0M1517 986h0M1378 982h0" stroke="#1d1147"/>
<path d="M1223 262h0M1218 404h0M1073 431h0M1089 434h0M1962 333h0M558 708h0M505 782h0M441 855h0M578 846h0M421 852h0M503 886h0M578 755h0M454 827h0M425 781h0M607 850h0M613 838h0M432 778h0M493 741h0M409 724h0M622 791h0M595 831h0M446 816h0M620 835h0M510 908h0M614 768h0M682 864h0M531 730h0M463 814h0M581 925h0M638 914h0M687 891h0M749 881h0M692 741h0M767 749h0M652 702h0M735 758h0M675 679h0M761 760h0M716 723h0M624 727h0M665 692h0M785 771h0M710 731h0M645 818h0M686 791h0M652 764h0M777 798h0M620 758h0M908 810h0M874 813h0M837 716h0M1441 536h0M1514 735h0M1450 709h0M1549 700h0M2172 613h0M2008 614h0M1997 597h0M1821 631h0M1804 638h0M1897 721h0M1861 718h0M1302 843h0M1611 952h0M1608 954h0M1479 961h0M886 888h0M943 915h0M981 918h0M1049 1017h0M1077 1018h0M1104 1006h0M684 979h0M707 963h0M707 1028h0M831 1170h0M1444 1196h0M1715 1281h0M1628 1348h0M1733 1361h0M1636 1473h0M1476 1005h0M1501 1002h0M1492 997h0M2175 690h0M2155 676h0" stroke="#36106b"/>
<path d="M1286 335h0M1355 387h0M1255 395h0M1231 298h0M1165 459h0M659 890h0M597 824h0M635 846h0M484 729h0M583 852h0M663 866h0M634 867h0M676 901h0M476 894h0M467 847h0M502 790h0M466 853h0M697 882h0M570 789h0M579 869h0M555 758h0M478 876h0M618 857h0M639 899h0M703 879h0M823 793h0M640 708h0M686 683h0M703 718h0M635 716h0M680 720h0M682 737h0M715 716h0M638 704h0M795 793h0M764 828h0M1563 716h0M2182 614h0M2170 605h0M2183 618h0M1761 615h0M1938 621h0M1869 686h0M1949 731h0M1405 901h0M1464 969h0M1496 964h0M1591 980h0M1583 946h0M888 878h0M892 902h0M894 890h0M979 923h0M1101 992h0M1062 985h0M1001 987h0M1085 1007h0M1084 943h0M1094 1009h0M1671 1299h0M1615 1268h0M1718 1420h0M1541 1438h0M1330 860h0M2156 673h0" stroke="#51127c"/>
<path d="M1094 441h0M602 855h0M577 772h0M496 866h0M555 713h0M519 816h0M513 813h0M416 807h0M696 870h0M683 871h0M412 842h0M589 913h0M775 769h0M771 739h0M681 701h0M757 762h0M727 715h0M628 702h0M850 793h0M618 740h0M712 800h0M688 808h0M879 816h0M835 822h0M1438 609h0M1546 671h0M1940 626h0M1328 1047h0M1105 1003h0M1083 967h0M1042 973h0M1699 1278h0M1628 1287h0" stroke="#6a1c81"/>
<path d="M1082 440h0M1099 433h0M571 691h0M659 896h0M457 831h0M434 878h0M630 906h0M539 813h0M676 896h0M609 924h0M649 894h0M743 883h0M833 717h0M2190 610h0M2211 630h0M1455 1000h0M906 921h0M1017 968h0M1713 1256h0M1402 989h0" stroke="#832681"/>
<path d="M638 896h0M735 885h0M908 818h0M1485 594h0M1610 955h0M1147 996h0M863 1285h0M1608 1282h0" stroke="#b73779"/>
<path d="M698 858h0M2150 590h0" stroke="#e65164"/>
<path d="M1181 264h0M1220 263h0M1185 260h0M1159 292h0M1252 259h0M1195 244h0M1155 309h0M1151 302h0M1188 266h0M1163 270h0M1195 243h0M1175 299h0M1175 260h0M1247 253h0M1209 272h0M1189 264h0M1166 296h0M1282 267h0M1218 243h0M1160 293h0M1208 249h0M1245 252h0M1287 280h0M1188 272h0M1178 293h0M1258 262h0M1183 289h0M1253 260h0M1162 281h0M1180 285h0M1205 271h0M1248 271h0M1188 283h0M1230 244h0M1207 251h0M1150 292h0M1230 260h0M1193 257h0M1166 294h0M1198 244h0M1187 267h0M1166 254h0M1216 272h0M1200 251h0M1251 262h0M1193 250h0M1183 257h0M1234 268h0M1150 292h0M1270 267h0M1150 290h0M1226 256h0M1314 358h0M1300 353h0M1326 365h0M1312 409h0M1259 328h0M1269 320h0M1283 384h0M1363 377h0M1331 365h0M1309 391h0M1305 362h0M1292 316h0M1299 307h0M1272 345h0M1290 297h0M1370 383h0M1285 325h0M1356 344h0M1324 316h0M1261 299h0M1353 313h0M1346 318h0M1312 360h0M1304 401h0M1259 347h0M1275 287h0M1371 346h0M1297 308h0M1376 368h0M1298 398h0M1264 299h0M1306 309h0M1318 411h0M1366 380h0M1322 331h0M1353 310h0M1317 318h0M1277 281h0M1320 407h0M1319 399h0M1290 309h0M1287 309h0M1273 371h0M1294 308h0M1361 325h0M1321 364h0M1292 313h0M1336 346h0M1371 333h0M1310 315h0M1255 299h0M1346 360h0M1271 344h0M1265 359h0M1341 412h0M1361 371h0M1344 315h0M1315 389h0M1352 411h0M1275 394h0M1338 340h0M1280 396h0M1368 361h0M1337 380h0M1370 341h0M1279 380h0M1340 368h0M1280 320h0M1289 331h0M1335 390h0M1294 312h0M1312 401h0M1352 323h0M1325 406h0M1328 352h0M1309 379h0M1328 357h0M1306 285h0M1323 339h0M1299 385h0M1299 304h0M1274 332h0M1385 389h0M1288 412h0M1266 303h0M1263 313h0M1360 365h0M1294 322h0M1298 369h0M1339 300h0M1274 389h0M1377 359h0M1333 382h0M1353 403h0M1322 396h0M1361 346h0M1273 294h0M1372 337h0M1290 308h0M1377 347h0M1317 320h0M1295 382h0M1278 401h0M1279 410h0M1365 348h0M1268 310h0M1278 408h0M1273 376h0M1267 364h0M1304 355h0M1350 306h0M1351 384h0M1264 317h0M1334 349h0M1322 319h0M1340 392h0M1337 407h0M1343 386h0M1297 319h0M1324 384h0M1343 308h0M1290 310h0M1359 387h0M1277 301h0M1325 372h0M1315 334h0M1375 357h0M1376 359h0M1301 298h0M1188 419h0M1201 413h0M1268 392h0M1225 326h0M1191 331h0M1185 384h0M1170 399h0M1257 360h0M1188 422h0M1225 388h0M1268 394h0M1219 274h0M1172 385h0M1185 381h0M1226 297h0M1170 396h0M1184 331h0M1241 404h0M1244 351h0M1216 373h0M1264 399h0M1240 403h0M1182 396h0M1168 379h0M1203 321h0M1205 318h0M1175 425h0M1255 401h0M1246 360h0M1207 287h0M1178 311h0M1175 370h0M1236 397h0M1259 399h0M1213 329h0M1163 414h0M1196 390h0M1174 347h0M1245 377h0M1215 366h0M1222 396h0M1195 329h0M1218 400h0M1210 357h0M1180 312h0M1222 331h0M1196 366h0M1187 365h0M1191 373h0M1180 311h0M1217 372h0M1213 300h0M1166 377h0M1262 389h0M1170 409h0M1215 346h0M1225 303h0M1198 412h0M1260 392h0M1259 374h0M1204 388h0M1247 417h0M1205 302h0M1168 452h0M1155 449h0M1185 462h0M1165 455h0M1163 446h0M1195 470h0M1175 443h0M1204 453h0M1156 463h0M1219 467h0M1224 465h0M1214 454h0M1174 466h0M1144 450h0M1223 472h0M1159 462h0M1205 450h0M1198 457h0M1082 447h0M1083 421h0M1076 438h0M1097 428h0M1081 422h0M1077 435h0M1084 436h0M1073 414h0M1077 422h0M1082 428h0M1150 424h0M1129 451h0M1141 436h0M1142 434h0M1149 430h0M1410 375h0M1381 418h0M1388 418h0M1381 430h0M1391 352h0M1385 360h0M1428 433h0M1442 449h0M1474 492h0M1482 491h0M1987 334h0M2009 337h0M1984 325h0M1983 338h0M1991 347h0M2007 336h0M1971 341h0M1964 329h0M1991 345h0M1970 327h0M1997 353h0M1967 340h0M2000 332h0M1972 323h0M1987 352h0M1992 337h0M1958 336h0M1995 342h0M1979 323h0M2015 362h0M1991 354h0M1964 341h0M1974 338h0M2011 337h0M1979 342h0M1970 337h0M2015 361h0M1983 339h0M2019 337h0M2007 346h0M1979 327h0M2006 332h0M1969 338h0M1972 328h0M2005 336h0M1964 352h0M1995 326h0M1943 376h0M1937 376h0M1942 366h0M1948 370h0M1935 373h0M673 479h0M702 491h0M787 502h0M813 519h0M781 461h0M824 485h0M831 488h0M830 491h0M835 489h0M803 544h0M794 547h0M538 789h0M538 706h0M602 830h0M600 831h0M469 772h0M605 764h0M496 684h0M579 737h0M522 785h0M523 861h0M600 895h0M637 862h0M418 779h0M469 706h0M452 754h0M613 904h0M505 720h0M586 743h0M483 845h0M599 820h0M570 706h0M520 692h0M554 767h0M464 726h0M602 923h0M603 806h0M491 732h0M488 900h0M549 828h0M500 876h0M477 839h0M572 741h0M443 870h0M415 714h0M631 880h0M589 758h0M598 911h0M532 920h0M543 762h0M449 838h0M576 856h0M566 703h0M581 712h0M436 848h0M517 742h0M580 921h0M464 883h0M585 908h0M505 781h0M464 699h0M589 817h0M491 759h0M538 699h0M644 868h0M479 843h0M557 767h0M507 772h0M711 863h0M550 859h0M472 791h0M441 832h0M580 813h0M698 866h0M603 843h0M629 811h0M540 816h0M489 677h0M506 686h0M434 831h0M543 817h0M536 914h0M634 915h0M482 861h0M468 860h0M521 720h0M503 768h0M418 795h0M426 769h0M447 799h0M411 851h0M658 885h0M415 716h0M476 798h0M590 796h0M651 888h0M585 844h0M455 885h0M487 675h0M535 698h0M565 764h0M527 709h0M586 793h0M532 867h0M516 777h0M414 771h0M566 866h0M521 914h0M574 840h0M442 766h0M553 860h0M548 888h0M589 889h0M483 768h0M468 791h0M499 891h0M480 854h0M474 771h0M483 728h0M637 828h0M591 883h0M451 733h0M521 913h0M453 699h0M516 721h0M520 723h0M602 885h0M562 731h0M428 708h0M523 715h0M533 867h0M588 832h0M562 803h0M614 873h0M620 887h0M491 714h0M515 695h0M633 872h0M505 761h0M701 875h0M619 782h0M576 804h0M533 732h0M521 695h0M566 889h0M552 833h0M564 761h0M567 838h0M566 888h0M494 741h0M529 704h0M692 864h0M687 879h0M513 700h0M463 806h0M480 706h0M542 713h0M575 806h0M522 789h0M546 872h0M637 875h0M556 861h0M503 717h0M625 836h0M619 918h0M470 837h0M500 827h0M624 909h0M633 874h0M508 695h0M558 799h0M462 887h0M503 752h0M543 824h0M526 871h0M435 845h0M452 752h0M522 723h0M575 919h0M464 744h0M575 794h0M565 720h0M431 842h0M432 870h0M415 784h0M663 880h0M641 889h0M501 864h0M424 816h0M508 729h0M573 795h0M490 875h0M455 701h0M447 791h0M529 704h0M707 885h0M626 837h0M436 877h0M495 700h0M547 779h0M574 829h0M716 877h0M455 739h0M468 888h0M481 698h0M467 872h0M523 885h0M558 823h0M744 872h0M593 717h0M566 875h0M591 809h0M431 839h0M593 696h0M434 821h0M513 731h0M525 828h0M605 729h0M408 839h0M435 799h0M468 735h0M619 702h0M577 698h0M436 844h0M557 801h0M498 802h0M585 910h0M574 791h0M561 844h0M540 714h0M471 701h0M463 888h0M573 853h0M486 827h0M569 754h0M575 928h0M603 915h0M598 911h0M601 921h0M567 921h0M652 892h0M627 914h0M647 909h0M636 898h0M627 903h0M620 902h0M651 902h0M624 917h0M671 893h0M670 905h0M696 878h0M665 888h0M678 887h0M683 880h0M667 887h0M733 884h0M705 742h0M780 758h0M739 735h0M744 756h0M748 738h0M688 681h0M713 733h0M654 704h0M677 704h0M787 764h0M824 796h0M690 707h0M794 776h0M684 729h0M729 749h0M777 767h0M651 702h0M815 796h0M771 758h0M800 792h0M817 788h0M753 759h0M675 719h0M697 679h0M782 756h0M724 714h0M739 724h0M714 741h0M626 707h0M709 734h0M667 727h0M848 799h0M759 762h0M764 770h0M761 755h0M733 738h0M847 796h0M749 753h0M837 793h0M685 705h0M628 701h0M701 744h0M751 731h0M677 677h0M703 684h0M639 702h0M717 709h0M776 771h0M736 738h0M778 760h0M732 723h0M643 767h0M817 812h0M689 766h0M704 832h0M773 809h0M694 817h0M804 820h0M707 804h0M617 756h0M705 760h0M637 759h0M669 843h0M677 796h0M764 823h0M676 842h0M698 811h0M648 824h0M757 791h0M627 761h0M867 837h0M830 816h0M903 814h0M871 821h0M841 816h0M907 822h0M847 811h0M908 818h0M842 825h0M830 826h0M876 813h0M901 829h0M855 826h0M883 833h0M857 818h0M856 814h0M916 817h0M897 811h0M901 812h0M870 810h0M876 817h0M870 814h0M886 822h0M844 828h0M908 819h0M930 817h0M854 827h0M850 718h0M857 718h0M864 720h0M897 742h0M880 762h0M761 898h0M886 849h0M882 859h0M875 845h0M881 883h0M1420 566h0M1381 522h0M1497 621h0M1366 570h0M1502 655h0M1344 580h0M1301 581h0M1345 540h0M1355 609h0M1418 523h0M1278 593h0M1464 671h0M1444 678h0M1375 597h0M1314 586h0M1369 560h0M1458 619h0M1502 597h0M1333 590h0M1515 622h0M1558 664h0M1563 646h0M1310 602h0M1418 651h0M1339 653h0M1490 669h0M1421 594h0M1428 622h0M1512 678h0M1504 677h0M1514 605h0M1474 612h0M1452 560h0M1424 545h0M1447 660h0M1444 646h0M1321 656h0M1368 523h0M1323 620h0M1364 562h0M1523 617h0M1437 553h0M1405 567h0M1353 603h0M1421 540h0M1545 665h0M1466 572h0M1384 543h0M1511 640h0M1504 639h0M1521 602h0M1379 550h0M1450 589h0M1292 605h0M1436 672h0M1496 619h0M1398 614h0M1454 568h0M1326 606h0M1549 630h0M1356 587h0M1319 633h0M1354 621h0M1382 566h0M1427 661h0M1320 662h0M1441 624h0M1357 571h0M1440 677h0M1455 660h0M1442 623h0M1476 666h0M1435 635h0M1478 657h0M1322 578h0M1319 651h0M1299 582h0M1471 605h0M1408 632h0M1302 631h0M1424 633h0M1440 544h0M1478 577h0M1493 672h0M1495 590h0M1353 666h0M1404 572h0M1381 579h0M1376 562h0M1318 653h0M1442 543h0M1389 682h0M1453 680h0M1462 653h0M1473 624h0M1423 669h0M1283 635h0M1318 576h0M1459 658h0M1472 653h0M1365 609h0M1345 557h0M1353 560h0M1301 597h0M1520 674h0M1320 571h0M1481 645h0M1341 587h0M1330 548h0M1510 593h0M1465 609h0M1560 626h0M1295 589h0M1309 656h0M1561 661h0M1408 522h0M1487 620h0M1339 662h0M1517 652h0M1344 586h0M1385 571h0M1380 604h0M1413 656h0M1344 636h0M1468 678h0M1308 571h0M1431 655h0M1460 655h0M1404 636h0M1373 658h0M1341 620h0M1414 602h0M1296 613h0M1417 654h0M1525 622h0M1459 635h0M1539 600h0M1366 613h0M1462 606h0M1507 576h0M1374 624h0M1442 535h0M1402 638h0M1451 602h0M1487 627h0M1427 552h0M1497 680h0M1456 632h0M1522 669h0M1399 662h0M1548 628h0M1297 617h0M1387 603h0M1367 681h0M1454 614h0M1417 666h0M1544 630h0M1380 554h0M1346 655h0M1491 631h0M1338 644h0M1412 672h0M1497 574h0M1511 653h0M1381 676h0M1407 655h0M1371 549h0M1379 531h0M1337 592h0M1473 593h0M1451 657h0M1447 645h0M1349 581h0M1328 638h0M1487 677h0M1523 641h0M1296 610h0M1389 568h0M1335 547h0M1332 578h0M1324 636h0M1557 631h0M1377 569h0M1542 655h0M1431 558h0M1494 631h0M1381 647h0M1404 687h0M1333 595h0M1497 589h0M1415 547h0M1368 592h0M1366 658h0M1494 642h0M1436 599h0M1526 601h0M1532 645h0M1326 626h0M1383 671h0M1453 684h0M1434 625h0M1343 634h0M1532 625h0M1524 680h0M1450 554h0M1293 573h0M1373 644h0M1459 588h0M1526 610h0M1279 609h0M1419 666h0M1336 649h0M1322 572h0M1381 521h0M1450 634h0M1526 597h0M1364 661h0M1378 548h0M1344 569h0M1280 587h0M1534 715h0M1459 718h0M1554 704h0M1502 701h0M1581 736h0M1596 694h0M1570 674h0M1492 685h0M1425 698h0M1480 689h0M1497 711h0M1552 728h0M1525 719h0M1588 681h0M1578 732h0M1581 692h0M1555 747h0M1408 689h0M1533 698h0M1585 673h0M1586 657h0M1468 707h0M1598 690h0M1513 696h0M1541 743h0M1598 673h0M1440 706h0M1576 745h0M1572 724h0M1511 724h0M1589 664h0M1573 721h0M1483 718h0M1489 709h0M1593 736h0M1438 705h0M1600 723h0M1580 734h0M1588 731h0M1527 689h0M1473 710h0M1406 690h0M1529 709h0M1516 732h0M1580 654h0M1463 722h0M1560 688h0M1584 733h0M1532 707h0M1527 716h0M1603 676h0M1589 729h0M1522 732h0M1580 729h0M1493 728h0M1461 722h0M1480 708h0M1518 693h0M1550 728h0M1461 694h0M1513 699h0M1588 668h0M1601 733h0M1597 742h0M1502 701h0M1571 678h0M1434 705h0M1546 698h0M1576 724h0M1567 701h0M1561 710h0M1576 670h0M1560 692h0M1557 688h0M1576 696h0M1646 714h0M1678 693h0M1652 677h0M1682 713h0M1644 695h0M1606 662h0M1667 695h0M1662 675h0M1621 654h0M1648 689h0M1673 676h0M1669 673h0M1666 692h0M1611 700h0M1656 650h0M1642 683h0M1642 679h0M1668 695h0M1668 637h0M1647 698h0M1697 650h0M1681 643h0M1634 683h0M1682 647h0M1688 653h0M1671 689h0M1605 730h0M1598 677h0M1658 689h0M1619 697h0M1616 671h0M1607 708h0M1670 714h0M1609 726h0M1651 708h0M1667 715h0M1617 664h0M1685 648h0M1637 655h0M1640 659h0M1635 677h0M1685 711h0M1659 713h0M1587 653h0M1668 657h0M1540 576h0M1545 568h0M1613 598h0M1613 606h0M1486 557h0M1589 588h0M1720 607h0M1724 676h0M1715 650h0M2004 609h0M2005 598h0M2021 602h0M1999 602h0M2011 603h0M2006 609h0M2021 605h0M2053 591h0M2024 599h0M2022 601h0M2055 600h0M2032 600h0M2028 597h0M2032 599h0M2029 606h0M2050 598h0M2067 597h0M2065 591h0M2070 590h0M2057 601h0M2068 595h0M2099 596h0M2105 597h0M2116 593h0M2102 597h0M2112 588h0M2095 600h0M2127 595h0M2154 589h0M2120 595h0M2149 586h0M2165 592h0M2165 597h0M2166 603h0M2182 609h0M2199 629h0M2224 614h0M2217 607h0M2215 614h0M2183 607h0M2208 616h0M2167 603h0M2183 604h0M2195 616h0M2197 622h0M2188 602h0M2210 618h0M2186 605h0M2198 609h0M2214 628h0M2215 622h0M2193 612h0M1930 727h0M1926 726h0M1936 730h0M1937 737h0M1796 614h0M1863 632h0M1794 635h0M1888 628h0M2214 607h0M1912 647h0M1872 664h0M1763 605h0M1911 650h0M1998 606h0M1770 610h0M1771 613h0M1804 599h0M1864 627h0M1945 636h0M2215 624h0M1868 627h0M2128 589h0M2111 607h0M1834 653h0M2115 596h0M1863 648h0M1805 606h0M1836 622h0M2128 592h0M1798 636h0M1835 644h0M1745 641h0M1823 640h0M2170 613h0M2201 604h0M1782 646h0M1849 644h0M1888 646h0M1993 606h0M1934 633h0M1808 634h0M1775 641h0M1765 648h0M2202 611h0M2202 615h0M1782 602h0M1815 632h0M1775 645h0M1887 645h0M1810 625h0M1765 631h0M2161 598h0M2072 607h0M1853 654h0M1986 622h0M1778 623h0M1775 607h0M2071 602h0M1889 621h0M1822 622h0M1895 627h0M1903 647h0M2047 602h0M1887 650h0M1800 618h0M1891 633h0M1852 635h0M1812 624h0M1924 614h0M1916 624h0M1998 618h0M1989 606h0M1936 639h0M2165 595h0M1740 613h0M1935 614h0M1968 629h0M2009 596h0M1975 620h0M2194 614h0M1755 643h0M1885 653h0M2188 624h0M1809 606h0M1891 648h0M2198 606h0M2026 605h0M2133 601h0M2089 606h0M2198 621h0M2160 589h0M1746 619h0M1886 649h0M2132 588h0M1773 636h0M1751 618h0M1822 633h0M1747 640h0M2083 605h0M1813 601h0M1893 627h0M2204 628h0M1829 619h0M1781 640h0M2204 608h0M1807 599h0M1858 608h0M1833 635h0M1863 660h0M1969 631h0M1773 604h0M2025 616h0M1869 643h0M1847 615h0M1857 631h0M1777 608h0M1832 620h0M1940 623h0M2082 606h0M2149 593h0M1800 635h0M1948 624h0M1873 631h0M1914 624h0M1763 621h0M1839 653h0M1836 650h0M1781 650h0M1786 628h0M1976 624h0M1845 632h0M1838 655h0M1868 624h0M2059 595h0M1856 629h0M1895 648h0M2142 594h0M2202 627h0M1836 648h0M1862 645h0M2106 599h0M1817 607h0M2159 594h0M1747 606h0M2120 589h0M2115 585h0M1759 645h0M1924 638h0M1819 654h0M1998 597h0M1778 639h0M1838 633h0M2205 618h0M1853 643h0M1916 647h0M1888 632h0M2173 597h0M1967 609h0M2171 611h0M2204 610h0M1742 630h0M1888 634h0M2064 611h0M2191 609h0M2155 586h0M1891 639h0M2204 617h0M1840 639h0M1849 652h0M1925 646h0M1812 757h0M1826 757h0M1836 755h0M1810 758h0M1829 759h0M1839 744h0M1815 753h0M1822 753h0M1808 764h0M1876 686h0M1914 666h0M1919 677h0M1888 690h0M1907 697h0M1900 697h0M1916 674h0M1886 713h0M1951 675h0M1922 700h0M1889 681h0M1896 712h0M1866 674h0M1949 679h0M1882 683h0M1892 728h0M1920 710h0M1893 701h0M1914 722h0M1919 674h0M1860 702h0M1884 673h0M1903 690h0M1910 719h0M1926 677h0M1871 708h0M1858 710h0M1895 665h0M1864 694h0M1893 717h0M1917 716h0M1891 708h0M1927 686h0M1902 665h0M1884 670h0M1886 674h0M1873 672h0M1898 665h0M1910 695h0M1865 673h0M1855 703h0M1880 719h0M1917 720h0M1896 674h0M1992 707h0M1943 732h0M1931 737h0M2032 690h0M2000 702h0M2012 698h0M2009 698h0M1945 736h0M1950 725h0M1927 734h0M1938 727h0M2005 701h0M1943 736h0M1955 733h0M2007 697h0M1995 702h0M1974 718h0M1974 678h0M2027 678h0M1956 685h0M2060 673h0M2153 640h0M2030 674h0M2106 650h0M2068 656h0M2153 641h0M2176 644h0M2097 649h0M2080 654h0M2174 626h0M2059 658h0M2048 681h0M2161 652h0M1999 670h0M2175 648h0M2055 675h0M2084 655h0M2052 679h0M2038 683h0M2050 678h0M2071 678h0M2095 668h0M2132 662h0M2127 670h0M2154 669h0M2201 694h0M2181 680h0M2178 682h0M2199 690h0M2184 678h0M2168 673h0M2163 673h0M2161 675h0M2174 685h0M2191 680h0M2153 676h0M2179 680h0M2171 677h0M2183 688h0M1758 704h0M1763 704h0M1810 709h0M1820 715h0M1831 707h0M1740 677h0M1285 829h0M1292 833h0M1291 833h0M1281 826h0M1308 849h0M1311 841h0M1319 848h0M1313 852h0M1305 837h0M1301 838h0M1324 860h0M1328 866h0M1318 857h0M1350 877h0M1342 879h0M1340 868h0M1350 880h0M1339 869h0M1356 887h0M1358 882h0M1366 886h0M1373 895h0M1373 896h0M1377 894h0M1384 892h0M1398 895h0M1391 895h0M1386 893h0M1405 903h0M1404 900h0M1410 896h0M1425 904h0M1400 862h0M1393 861h0M1426 864h0M1423 866h0M1415 879h0M1452 935h0M1592 987h0M1615 991h0M1465 998h0M1607 981h0M1624 951h0M1580 939h0M1607 950h0M1472 989h0M1604 957h0M1445 967h0M1404 982h0M1451 982h0M1506 981h0M1604 1003h0M1463 971h0M1464 1006h0M1616 979h0M1511 995h0M1460 974h0M1619 968h0M1437 991h0M1417 987h0M1539 981h0M1633 952h0M1575 1008h0M1617 958h0M1463 962h0M1565 964h0M1498 996h0M1632 961h0M1568 942h0M1537 984h0M1452 996h0M1452 962h0M1429 997h0M1458 977h0M1530 955h0M1508 999h0M1448 982h0M1619 975h0M1594 940h0M1598 994h0M1521 990h0M1640 977h0M1561 945h0M1492 985h0M1456 986h0M1449 989h0M1451 1004h0M1465 966h0M1603 983h0M1565 1014h0M1514 977h0M1580 949h0M1393 992h0M1609 989h0M1422 979h0M1606 1010h0M1427 1004h0M1591 939h0M1544 998h0M1502 1004h0M1560 988h0M1603 1012h0M1545 980h0M1417 979h0M1491 966h0M1581 957h0M1615 959h0M1623 976h0M1548 966h0M1395 992h0M1610 1007h0M1507 1004h0M1393 999h0M1571 1005h0M1613 973h0M1606 1001h0M1482 995h0M1466 1003h0M1451 973h0M1497 984h0M1562 957h0M1587 1019h0M1566 982h0M1544 1006h0M1549 965h0M1519 962h0M1310 1045h0M1308 1058h0M1310 1052h0M1309 1053h0M1298 1059h0M1315 1042h0M1324 1044h0M1324 1037h0M1322 1045h0M1328 1041h0M1331 1036h0M1342 1032h0M1348 1037h0M1346 1038h0M1335 1040h0M1336 1036h0M1349 1029h0M1341 1035h0M1349 1034h0M1353 1033h0M1359 1031h0M1358 1036h0M1351 1028h0M1381 1020h0M1391 1000h0M1481 1007h0M1502 1012h0M1536 1014h0M1284 944h0M1279 940h0M1303 944h0M882 881h0M893 910h0M919 916h0M922 916h0M925 913h0M908 914h0M929 924h0M935 919h0M979 925h0M967 920h0M985 929h0M955 925h0M989 928h0M995 924h0M864 944h0M879 944h0M872 938h0M959 959h0M982 945h0M1009 952h0M932 979h0M863 1001h0M1022 975h0M1047 945h0M1161 965h0M1012 1013h0M1078 985h0M1013 970h0M1111 946h0M1096 947h0M1085 1009h0M1055 1020h0M1160 971h0M1052 1013h0M1143 997h0M1119 979h0M1024 1021h0M1129 944h0M1102 996h0M1149 967h0M1066 943h0M1052 1023h0M1019 1020h0M1074 1003h0M1080 1000h0M1112 995h0M1097 1008h0M999 989h0M1100 949h0M1145 994h0M1110 995h0M1189 961h0M1099 986h0M1075 978h0M1111 950h0M1039 941h0M1002 989h0M1167 952h0M1058 969h0M1164 956h0M1021 967h0M1079 1012h0M1049 985h0M1098 938h0M1065 988h0M1145 983h0M1084 948h0M1045 991h0M1056 971h0M1048 951h0M1038 1024h0M1116 987h0M1160 981h0M1119 1001h0M1081 1008h0M999 981h0M1141 961h0M1156 971h0M1162 966h0M1125 950h0M1097 1010h0M1048 971h0M1084 975h0M1028 1022h0M1060 1006h0M1077 959h0M1032 1018h0M1051 1015h0M1049 1019h0M1028 939h0M1087 941h0M1064 949h0M1064 945h0M1098 1010h0M1150 974h0M1018 963h0M1073 1001h0M1043 965h0M1127 954h0M1104 1000h0M1016 1027h0M981 1020h0M1210 955h0M1230 955h0M1179 975h0M1269 935h0M1267 943h0M705 977h0M705 974h0M707 978h0M707 990h0M675 988h0M694 975h0M705 1034h0M734 1044h0M718 1056h0M727 1056h0M725 1046h0M698 1009h0M708 966h0M688 1019h0M706 1040h0M691 973h0M721 1028h0M692 1016h0M730 1046h0M682 1006h0M695 974h0M687 981h0M708 981h0M736 1025h0M742 1024h0M810 991h0M778 1021h0M785 1020h0M820 984h0M780 1023h0M774 1025h0M768 1020h0M803 989h0M758 1029h0M750 1033h0M818 989h0M759 1036h0M817 989h0M762 1015h0M817 981h0M755 1022h0M723 1036h0M809 996h0M793 1008h0M833 978h0M741 1034h0M837 976h0M817 979h0M789 1010h0M772 1009h0M726 1042h0M759 1030h0M787 1011h0M790 1018h0M661 965h0M667 971h0M714 949h0M730 941h0M730 949h0M732 951h0M754 959h0M753 957h0M753 946h0M631 938h0M685 917h0M801 907h0M797 919h0M772 928h0M753 937h0M722 964h0M732 967h0M737 974h0M782 978h0M787 988h0M796 990h0M734 990h0M762 898h0M864 925h0M820 1171h0M830 1168h0M827 1161h0M816 1179h0M1012 1359h0M922 1325h0M913 1307h0M996 1354h0M1016 1357h0M1027 1358h0M884 1306h0M923 1328h0M848 1270h0M1034 1368h0M853 1289h0M971 1346h0M835 1240h0M1031 1369h0M825 1251h0M887 1303h0M882 1312h0M1002 1366h0M809 1198h0M853 1280h0M813 1215h0M986 1353h0M857 1280h0M1015 1367h0M919 1312h0M936 1332h0M928 1316h0M829 1241h0M814 1188h0M929 1334h0M858 1298h0M818 1214h0M898 1306h0M1001 1358h0M880 1313h0M850 1279h0M853 1280h0M937 1338h0M830 1249h0M870 1272h0M838 1255h0M938 1326h0M960 1344h0M816 1209h0M1042 1361h0M808 1216h0M807 1192h0M895 1308h0M852 1281h0M822 1230h0M894 1321h0M856 1268h0M1024 1365h0M856 1275h0M871 1295h0M937 1336h0M845 1257h0M813 1229h0M916 1307h0M800 1216h0M981 1365h0M818 1228h0M921 1322h0M812 1210h0M872 1310h0M865 1298h0M868 1293h0M906 1302h0M994 1370h0M933 1335h0M979 1345h0M934 1335h0M841 1276h0M1029 1370h0M920 1318h0M807 1227h0M934 1326h0M878 1300h0M809 1205h0M1021 1358h0M949 1344h0M974 1353h0M919 1321h0M813 1203h0M808 1209h0M905 1309h0M1006 1360h0M945 1343h0M991 1363h0M930 1320h0M868 1308h0M852 1288h0M977 1359h0M950 1352h0M843 1255h0M901 1312h0M887 1308h0M934 1322h0M1035 1364h0M838 1272h0M962 1343h0M844 1251h0M808 1214h0M944 1310h0M1022 1245h0M1017 1311h0M941 1285h0M951 1300h0M997 1296h0M951 1329h0M1015 1265h0M1032 1287h0M999 1290h0M1011 1328h0M974 1294h0M943 1277h0M1020 1316h0M958 1284h0M942 1290h0M964 1261h0M1006 1246h0M1012 1228h0M1017 1298h0M999 1296h0M1033 1278h0M1037 1265h0M995 1284h0M1004 1346h0M1014 1295h0M1010 1222h0M982 1289h0M1008 1256h0M981 1325h0M951 1285h0M1013 1238h0M969 1268h0M958 1265h0M1033 1256h0M1026 1310h0M968 1288h0M1007 1284h0M993 1256h0M1023 1318h0M1012 1312h0M952 1290h0M931 1305h0M982 1275h0M993 1336h0M994 1344h0M974 1252h0M957 1322h0M983 1250h0M1009 1235h0M1034 1279h0M1011 1243h0M1009 1233h0M1008 1257h0M1020 1252h0M999 1256h0M1032 1263h0M1027 1265h0M1027 1227h0M1011 1237h0M1006 1262h0M1031 1283h0M1019 1222h0M1009 1255h0M1014 1224h0M1007 1243h0M1029 1235h0M1034 1276h0M1020 1230h0M1027 1270h0M1012 1223h0M1005 1269h0M1015 1265h0M1027 1278h0M1025 1240h0M1014 1224h0M922 1248h0M899 1280h0M958 1264h0M971 1249h0M983 1246h0M1204 1281h0M1151 1294h0M1205 1276h0M1196 1282h0M1280 1264h0M1218 1283h0M1199 1291h0M1150 1296h0M1241 1256h0M1225 1275h0M1186 1279h0M1271 1275h0M1242 1253h0M1236 1284h0M1199 1276h0M1242 1271h0M1222 1261h0M1254 1279h0M1271 1271h0M1167 1293h0M1260 1271h0M1244 1258h0M1178 1291h0M1269 1280h0M1215 1268h0M1168 1294h0M1210 1277h0M1190 1291h0M1202 1286h0M1212 1273h0M1275 1262h0M1172 1284h0M1254 1255h0M1229 1261h0M1239 1258h0M1206 1284h0M1218 1270h0M1251 1265h0M1226 1262h0M1282 1261h0M1272 1262h0M1279 1262h0M1223 1271h0M1261 1282h0M1152 1293h0M1244 1263h0M1256 1277h0M1244 1262h0M1279 1270h0M1175 1282h0M1238 1275h0M1233 1267h0M1176 1286h0M1195 1284h0M1135 1251h0M1162 1254h0M1260 1288h0M1194 1296h0M1440 1202h0M1442 1197h0M1453 1197h0M1457 1198h0M1484 1196h0M1476 1198h0M1470 1193h0M1497 1189h0M1487 1190h0M1491 1187h0M1524 1165h0M1518 1173h0M1517 1167h0M1560 1225h0M1569 1235h0M1589 1282h0M1592 1311h0M1587 1249h0M1698 1255h0M1685 1298h0M1683 1303h0M1708 1257h0M1621 1307h0M1736 1262h0M1676 1276h0M1669 1279h0M1665 1261h0M1670 1286h0M1647 1300h0M1629 1309h0M1780 1249h0M1741 1276h0M1706 1269h0M1735 1267h0M1709 1257h0M1742 1255h0M1712 1272h0M1683 1307h0M1616 1294h0M1634 1287h0M1715 1275h0M1685 1276h0M1663 1296h0M1679 1313h0M1608 1299h0M1624 1289h0M1666 1249h0M1692 1312h0M1642 1276h0M1617 1294h0M1635 1268h0M1629 1292h0M1738 1271h0M1711 1265h0M1735 1255h0M1690 1262h0M1637 1260h0M1713 1285h0M1671 1292h0M1639 1276h0M1701 1253h0M1629 1281h0M1495 1296h0M1500 1299h0M1499 1302h0M1490 1299h0M1527 1297h0M1516 1304h0M1527 1302h0M1543 1307h0M1545 1305h0M1554 1291h0M1617 1346h0M1600 1357h0M1603 1325h0M1653 1403h0M1627 1360h0M1641 1366h0M1636 1343h0M1677 1368h0M1607 1397h0M1622 1368h0M1707 1386h0M1675 1391h0M1618 1367h0M1670 1401h0M1618 1345h0M1687 1351h0M1688 1371h0M1607 1338h0M1665 1404h0M1627 1396h0M1609 1337h0M1644 1329h0M1716 1348h0M1662 1372h0M1657 1390h0M1684 1327h0M1612 1406h0M1667 1355h0M1728 1352h0M1709 1371h0M1716 1364h0M1717 1358h0M1728 1361h0M1729 1349h0M1710 1358h0M1719 1364h0M1711 1356h0M1714 1347h0M1715 1407h0M1706 1414h0M1720 1414h0M1728 1413h0M1712 1417h0M1719 1408h0M1723 1404h0M1724 1421h0M1602 1455h0M1665 1433h0M1664 1425h0M1620 1451h0M1549 1468h0M1540 1434h0M1539 1488h0M1617 1425h0M1662 1488h0M1654 1420h0M1608 1489h0M1557 1485h0M1594 1435h0M1534 1473h0M1632 1487h0M1610 1495h0M1642 1483h0M1547 1425h0M1554 1431h0M1599 1438h0M1699 1463h0M1530 1436h0M1669 1459h0M1691 1450h0M1578 1473h0M1574 1458h0M1560 1487h0M1556 1451h0M1635 1452h0M1619 1416h0M1669 1429h0M1642 1461h0M1552 1446h0M1586 1458h0M1672 1468h0M1524 1487h0M1694 1449h0M1627 1420h0M1642 1433h0M1598 1482h0M1543 1461h0M1566 1463h0M1611 1413h0M1642 1462h0M1605 1461h0M1555 1481h0M1545 1473h0M1699 1462h0M1530 1442h0M1573 1459h0M1518 1452h0M1567 1439h0M1645 1465h0M1638 1459h0M1565 1484h0M1638 1421h0M1529 1428h0M1572 1457h0M1641 1427h0M1682 1450h0M1598 1472h0M1620 1422h0M1629 1487h0M1648 1445h0M1696 1459h0M1572 1461h0M1577 1491h0M1652 1481h0M1547 1442h0M1533 1435h0M1530 1470h0M1609 1491h0M1534 1473h0M1605 1421h0M1551 1446h0M1560 1417h0M1567 1460h0M1519 1435h0M1532 1437h0M1658 1439h0M1672 1471h0M1612 1415h0M1623 1493h0M1652 1483h0M1651 1491h0M1702 1446h0M1688 1451h0M1568 1445h0M1693 1460h0M1615 1441h0M1551 1449h0M1633 1492h0M1585 1466h0M1556 1433h0M1635 1427h0M1665 1444h0M1589 1435h0M1591 1425h0M1671 1429h0M1683 1455h0M1607 1483h0M1630 1451h0M1576 1474h0M1691 1457h0M1623 1433h0M1653 1452h0M1562 1438h0M1679 1437h0M1534 1445h0M1633 1488h0M1529 1473h0M1571 1431h0M1662 1481h0M1679 1460h0M1588 1495h0M1527 1473h0M1543 1483h0M1639 1471h0M1610 1494h0M1555 1480h0M1616 1426h0M1571 1483h0M1689 1441h0M1594 1498h0M1564 1460h0M1600 1436h0M1635 1439h0M1676 1440h0M1621 1412h0M1622 1429h0M1590 1435h0M1600 1481h0M1540 1478h0M1524 1433h0M1652 1478h0M1432 1430h0M1435 1426h0M1452 1434h0M1458 1431h0M1461 1431h0M1475 1427h0M1488 1429h0M2284 1125h0M2271 1125h0M2255 1125h0M2296 1120h0M2234 1116h0M2290 1110h0M2250 1124h0M2229 1111h0M2259 1104h0M2262 1121h0M2229 1099h0M2319 1113h0M2277 1118h0M2266 1121h0M2234 1118h0M2242 1103h0M2242 1102h0M2317 1117h0M2294 1117h0M2250 1132h0M2262 1116h0M2274 1117h0M2283 1124h0M2225 1115h0M2309 1109h0M2267 1107h0M2288 1112h0M2289 1128h0M2253 1140h0M2257 1117h0M2311 1105h0M2298 1123h0M2308 1108h0M2313 1111h0M2257 1119h0M2267 1108h0M2300 1114h0M2263 1123h0M2264 1108h0M2286 1126h0M2258 1128h0M2319 1115h0M2226 1111h0M2257 1134h0M2259 1132h0M2149 1112h0M2166 1111h0M543 1412h0M565 1398h0M575 1396h0M562 1405h0M566 1407h0M554 1399h0M550 1399h0M571 1399h0M569 1404h0M568 1400h0M561 1405h0M1699 645h0M1716 655h0M1715 610h0M1728 614h0M1696 647h0M1729 660h0M1691 622h0M1722 613h0M1729 658h0M1742 627h0M1692 642h0M1698 616h0M1734 594h0M1713 626h0M1719 619h0M1697 623h0M1710 620h0M1708 640h0M1698 626h0M1709 658h0M1737 611h0M1697 599h0M1723 612h0M1708 600h0M1742 593h0M1706 636h0M1716 660h0M1700 618h0M1737 602h0M1653 624h0M1644 624h0M1618 613h0M1681 617h0M1657 604h0M1620 598h0M1666 599h0M1649 619h0M1688 600h0M1321 852h0M1338 868h0M1314 851h0M1308 842h0M1315 854h0M1319 861h0M1311 847h0M1311 855h0M1339 870h0M1346 877h0M1357 889h0M1343 880h0M1352 875h0M1361 891h0M1384 1002h0M1394 1005h0M1460 998h0M1530 1000h0M1478 1002h0M1494 995h0M1500 989h0M1454 972h0M1430 1001h0M1391 1005h0M1431 969h0M1531 1008h0M1471 960h0M1383 995h0M1392 1001h0M1455 961h0M1535 983h0M1538 971h0M1453 998h0M1481 978h0M1432 987h0M1528 958h0M2122 642h0M2057 654h0M2115 659h0M1984 638h0M2127 643h0M2002 645h0M2021 623h0M2061 662h0M1983 673h0M2055 634h0M2114 661h0M2037 665h0M1959 645h0M2064 636h0M2016 629h0M2028 644h0M2107 658h0M1968 672h0M1956 660h0M2005 652h0M1981 656h0M2082 649h0M2178 676h0M2184 691h0M2173 678h0M2199 687h0M2184 677h0M2185 682h0M2153 683h0M2199 698h0M2197 677h0M2151 671h0M2177 679h0" stroke="#000004"/>
<path d="M1158 304h0M1273 333h0M1182 464h0M539 795h0M620 825h0M443 761h0M436 794h0M597 734h0M669 888h0M408 760h0M578 817h0M683 879h0M499 728h0M585 875h0M588 845h0M478 756h0M559 779h0M444 795h0M501 750h0M454 828h0M404 835h0M446 706h0M551 784h0M635 893h0M625 891h0M596 927h0M638 914h0M719 885h0M686 719h0M650 707h0M633 708h0M699 730h0M682 691h0M669 710h0M780 750h0M704 718h0M773 759h0M701 670h0M739 737h0M758 741h0M738 760h0M750 736h0M694 725h0M751 751h0M699 670h0M770 834h0M761 835h0M700 794h0M835 827h0M864 818h0M904 823h0M895 812h0M893 835h0M881 726h0M897 743h0M877 752h0M1379 637h0M1472 701h0M1940 732h0M2215 610h0M1740 634h0M1879 727h0M1999 700h0M1494 965h0M1498 958h0M1440 988h0M1467 969h0M1586 983h0M1352 1036h0M880 892h0M926 913h0M943 922h0M917 933h0M1095 956h0M1060 952h0M1065 974h0M1098 970h0M1052 975h0M1072 992h0M1128 954h0M838 973h0M834 1257h0M1185 1278h0M1648 1298h0M1633 1294h0M1751 1254h0M1672 1252h0M1697 1273h0M1669 1408h0M1431 1423h0M1693 597h0M1313 848h0M1351 877h0M2208 697h0M2218 693h0" stroke="#1d1147"/>
<path d="M1214 462h0M1226 462h0M1079 432h0M499 894h0M530 809h0M571 787h0M480 884h0M608 729h0M539 857h0M559 771h0M547 833h0M488 837h0M627 842h0M505 686h0M536 860h0M569 755h0M575 919h0M670 864h0M631 870h0M424 871h0M605 836h0M600 917h0M680 881h0M730 867h0M668 716h0M717 741h0M668 725h0M738 731h0M752 761h0M694 719h0M671 691h0M648 722h0M746 753h0M882 831h0M894 823h0M879 811h0M927 814h0M835 720h0M846 721h0M899 735h0M1435 588h0M2045 598h0M2194 616h0M2012 613h0M2192 626h0M1871 682h0M2004 668h0M2170 674h0M1443 923h0M1449 1004h0M1578 938h0M1569 972h0M1645 966h0M1322 1048h0M1343 1021h0M936 919h0M975 926h0M964 919h0M1102 958h0M1059 1026h0M1030 1019h0M1124 963h0M1012 997h0M1176 956h0M1134 958h0M709 990h0M698 976h0M873 1207h0M1159 1291h0M1705 1279h0M1739 1264h0M1734 1258h0M1721 1257h0M1712 1254h0M1673 1268h0M1654 615h0M1502 987h0M1502 964h0M1414 966h0M2198 681h0" stroke="#36106b"/>
<path d="M1300 343h0M1178 402h0M1140 432h0M517 860h0M554 807h0M619 890h0M603 885h0M517 793h0M580 841h0M582 788h0M652 882h0M476 831h0M458 849h0M651 887h0M618 827h0M595 892h0M565 818h0M628 873h0M504 850h0M538 746h0M476 871h0M511 857h0M529 742h0M676 869h0M557 875h0M534 835h0M546 859h0M427 814h0M728 867h0M433 837h0M560 918h0M590 917h0M663 910h0M694 878h0M748 725h0M755 730h0M773 748h0M795 773h0M694 738h0M666 692h0M686 703h0M692 687h0M687 689h0M718 749h0M685 683h0M776 777h0M691 702h0M700 732h0M722 833h0M721 779h0M664 743h0M717 769h0M626 777h0M845 821h0M848 815h0M846 723h0M824 714h0M1555 721h0M2169 604h0M2190 620h0M1828 615h0M1802 646h0M1778 609h0M1877 643h0M1305 842h0M1348 881h0M1372 887h0M1381 896h0M1616 992h0M1492 969h0M1409 976h0M1434 981h0M1347 1035h0M1353 1037h0M1110 966h0M1146 977h0M1063 995h0M1065 999h0M982 1017h0M895 1299h0M1693 1282h0M1669 1260h0M1681 1306h0M1706 1257h0M2187 675h0" stroke="#51127c"/>
<path d="M1203 258h0M1296 405h0M1077 416h0M617 722h0M440 696h0M587 838h0M454 790h0M551 880h0M591 888h0M567 769h0M583 860h0M561 886h0M514 887h0M749 865h0M730 888h0M726 888h0M680 673h0M782 770h0M679 792h0M722 801h0M777 782h0M870 810h0M837 836h0M1331 563h0M1474 618h0M1857 659h0M1638 989h0M1594 990h0M1073 1017h0M921 1308h0M1676 1299h0M1683 1265h0M1421 969h0" stroke="#6a1c81"/>
<path d="M647 864h0M516 717h0M448 828h0M418 865h0M627 816h0M466 839h0M463 782h0M601 887h0M512 793h0M649 914h0M639 918h0M753 744h0M661 723h0M766 767h0M759 780h0M823 822h0M885 876h0M1630 669h0M1537 975h0M1566 958h0M905 918h0M1452 1198h0M1661 1378h0" stroke="#832681"/>
<path d="M450 866h0M545 869h0M864 830h0M1796 599h0M2063 598h0M1037 1018h0M1639 1277h0M2184 681h0M1649 1262h0M1711 1275h0M1688 1276h0M1732 1347h0M1663 1327h0M1598 1253h0M2032 599h0M2041 609h0M2087 666h0M1103 441h0M1184 440h0M1289 425h0" stroke="#b73779"/>
<path d="M1202 395h0M509 905h0M879 839h0M1883 681h0M1135 966h0M492 771h0M529 773h0M663 771h0M500 791h0M505 807h0M471 821h0M462 839h0M559 859h0M426 864h0M492 868h0" stroke="#e65164"/>
<path d="M1755 1273h0M1764 1262h0M1735 1267h0M1776 1251h0M1672 1344h0" stroke="#f56b5c"/>
<path d="M446 815h0" stroke="#fea772"/>
<path d="M1764 1269h0M1644 1271h0" stroke="#fec488"/></g>
<defs><linearGradient id="mg" x1="0" y1="1" x2="0" y2="0">
<stop offset="0.0000" stop-color="#000004"/>
<stop offset="0.0625" stop-color="#0b0924"/>
<stop offset="0.1250" stop-color="#1d1147"/>
<stop offset="0.1875" stop-color="#36106b"/>
<stop offset="0.2500" stop-color="#51127c"/>
<stop offset="0.3125" stop-color="#6a1c81"/>
<stop offset="0.3750" stop-color="#832681"/>
<stop offset="0.4375" stop-color="#9c2e7f"/>
<stop offset="0.5000" stop-color="#b73779"/>
<stop offset="0.5625" stop-color="#cf4070"/>
<stop offset="0.6250" stop-color="#e65164"/>
<stop offset="0.6875" stop-color="#f56b5c"/>
<stop offset="0.7500" stop-color="#fb8761"/>
<stop offset="0.8125" stop-color="#fea772"/>
<stop offset="0.8750" stop-color="#fec488"/>
<stop offset="0.9375" stop-color="#fde2a3"/>
<stop offset="1.0000" stop-color="#fcfdbf"/>
</linearGradient></defs>
<rect x="2527" y="713.7" width="64" height="318.8" fill="url(#mg)"/>
<line x1="2527" y1="1032.5" x2="2540" y2="1032.5" stroke="#fff" stroke-width="2.4"/>
<line x1="2578" y1="1032.5" x2="2591" y2="1032.5" stroke="#fff" stroke-width="2.4"/>
<text x="2619.5" y="1050.5" class="tk">0</text>
<line x1="2527" y1="921.2" x2="2540" y2="921.2" stroke="#fff" stroke-width="2.4"/>
<line x1="2578" y1="921.2" x2="2591" y2="921.2" stroke="#fff" stroke-width="2.4"/>
<text x="2619.5" y="939.2" class="tk">1</text>
<line x1="2527" y1="809.9" x2="2540" y2="809.9" stroke="#fff" stroke-width="2.4"/>
<line x1="2578" y1="809.9" x2="2591" y2="809.9" stroke="#fff" stroke-width="2.4"/>
<text x="2619.5" y="827.9" class="tk">2</text>
</svg></body></html>
